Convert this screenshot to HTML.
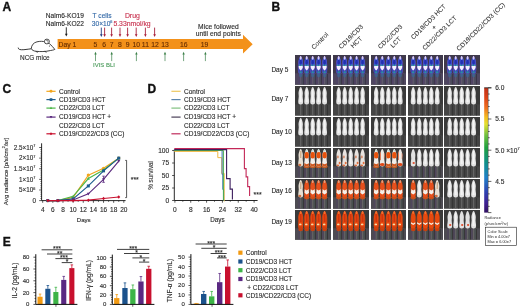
<!DOCTYPE html><html><head><meta charset="utf-8"><style>html,body{margin:0;padding:0;background:#fff;overflow:hidden;}svg{display:block;will-change:transform;}text{font-family:"Liberation Sans",sans-serif;}</style></head><body>
<svg width="520" height="308" viewBox="0 0 520 308">
<defs>
<path id="m" d="M0,1.2 C0.9,1.6 1.5,3.2 1.9,5 C2.2,6.8 1.8,8.4 2,10 C2.3,12 2.6,15 2.1,17 C1.6,18.6 -1.6,18.6 -2.1,17 C-2.6,15 -2.3,12 -2,10 C-1.8,8.4 -2.2,6.8 -1.9,5 C-1.5,3.2 -0.9,1.6 0,1.2Z"/>
<linearGradient id="cb" x1="0" y1="0" x2="0" y2="1"><stop offset="0" stop-color="#c03018"/><stop offset="0.08" stop-color="#dc4418"/><stop offset="0.16" stop-color="#ee7020"/><stop offset="0.24" stop-color="#f4c020"/><stop offset="0.29" stop-color="#e4e030"/><stop offset="0.38" stop-color="#70c040"/><stop offset="0.48" stop-color="#20a040"/><stop offset="0.6" stop-color="#10908a"/><stop offset="0.72" stop-color="#2080c8"/><stop offset="0.84" stop-color="#3040b0"/><stop offset="0.93" stop-color="#402090"/><stop offset="1" stop-color="#301060"/></linearGradient>
</defs>
<text x="2.4" y="10.7" font-size="12" font-weight="bold" fill="#111" stroke="#111" stroke-width="0.35">A</text>
<path d="M57.6,38.9 H243 V34.7 L252.7,44.2 L243,53.6 V49 H57.6 Z" fill="#F3911A"/>
<text x="58.6" y="46.8" font-size="6.8" fill="#6b3000" stroke="#6b3000" stroke-width="0.14">Day 1</text>
<text x="95.5" y="46.8" font-size="6.8" fill="#6b3000" text-anchor="middle" stroke="#6b3000" stroke-width="0.14">5</text>
<text x="104.1" y="46.8" font-size="6.8" fill="#6b3000" text-anchor="middle" stroke="#6b3000" stroke-width="0.14">6</text>
<text x="111.7" y="46.8" font-size="6.8" fill="#6b3000" text-anchor="middle" stroke="#6b3000" stroke-width="0.14">7</text>
<text x="119.8" y="46.8" font-size="6.8" fill="#6b3000" text-anchor="middle" stroke="#6b3000" stroke-width="0.14">8</text>
<text x="127.6" y="46.8" font-size="6.8" fill="#6b3000" text-anchor="middle" stroke="#6b3000" stroke-width="0.14">9</text>
<text x="136.2" y="46.8" font-size="6.8" fill="#6b3000" text-anchor="middle" stroke="#6b3000" stroke-width="0.14">10</text>
<text x="145.4" y="46.8" font-size="6.8" fill="#6b3000" text-anchor="middle" stroke="#6b3000" stroke-width="0.14">11</text>
<text x="155" y="46.8" font-size="6.8" fill="#6b3000" text-anchor="middle" stroke="#6b3000" stroke-width="0.14">12</text>
<text x="165" y="46.8" font-size="6.8" fill="#6b3000" text-anchor="middle" stroke="#6b3000" stroke-width="0.14">13</text>
<text x="183.8" y="46.8" font-size="6.8" fill="#6b3000" text-anchor="middle" stroke="#6b3000" stroke-width="0.14">16</text>
<text x="204.6" y="46.8" font-size="6.8" fill="#6b3000" text-anchor="middle" stroke="#6b3000" stroke-width="0.14">19</text>
<text x="45.8" y="17.6" font-size="6.6" fill="#2e2e2e" stroke="#2e2e2e" stroke-width="0.14">Nalm6-KO19</text>
<text x="45.8" y="25.6" font-size="6.6" fill="#2e2e2e" stroke="#2e2e2e" stroke-width="0.14">Nalm6-KO22</text>
<text x="92.6" y="17.6" font-size="6.6" fill="#356aa8" stroke="#356aa8" stroke-width="0.14">T cells</text>
<text x="91.8" y="25.6" font-size="6.6" fill="#356aa8" stroke="#356aa8" stroke-width="0.14">30×10<tspan font-size="3.8" dy="-2.6">6</tspan></text>
<text x="124.9" y="17.6" font-size="6.9" fill="#c83450" stroke="#c83450" stroke-width="0.14">Drug</text>
<text x="113.4" y="25.6" font-size="6.85" fill="#c83450" stroke="#c83450" stroke-width="0.14">5.33nmol/kg</text>
<text x="198.1" y="28.6" font-size="6.7" fill="#2e2e2e" stroke="#2e2e2e" stroke-width="0.14">Mice followed</text>
<text x="195.8" y="36.3" font-size="6.7" fill="#2e2e2e" stroke="#2e2e2e" stroke-width="0.14">until end points</text>
<path d="M66.3,27.3 V34.6" stroke="#1a1a1a" stroke-width="0.9"/><path d="M65.0,33.800000000000004 L66.3,36.6 L67.6,33.800000000000004Z" fill="#1a1a1a"/>
<path d="M101.3,27.6 V35" stroke="#1f3a80" stroke-width="0.9"/><path d="M100.0,34.2 L101.3,37 L102.6,34.2Z" fill="#1f3a80"/>
<path d="M104.6,27.6 V35" stroke="#a8203c" stroke-width="0.9"/><path d="M103.3,34.2 L104.6,37 L105.89999999999999,34.2Z" fill="#a8203c"/>
<path d="M111.6,27.6 V35" stroke="#a8203c" stroke-width="0.9"/><path d="M110.3,34.2 L111.6,37 L112.89999999999999,34.2Z" fill="#a8203c"/>
<path d="M120,27.6 V35" stroke="#a8203c" stroke-width="0.9"/><path d="M118.7,34.2 L120,37 L121.3,34.2Z" fill="#a8203c"/>
<path d="M127.6,27.6 V35" stroke="#a8203c" stroke-width="0.9"/><path d="M126.3,34.2 L127.6,37 L128.9,34.2Z" fill="#a8203c"/>
<path d="M136.2,27.6 V35" stroke="#a8203c" stroke-width="0.9"/><path d="M134.89999999999998,34.2 L136.2,37 L137.5,34.2Z" fill="#a8203c"/>
<path d="M145.4,27.6 V35" stroke="#a8203c" stroke-width="0.9"/><path d="M144.1,34.2 L145.4,37 L146.70000000000002,34.2Z" fill="#a8203c"/>
<path d="M154.6,27.6 V35" stroke="#a8203c" stroke-width="0.9"/><path d="M153.29999999999998,34.2 L154.6,37 L155.9,34.2Z" fill="#a8203c"/>
<path d="M95.5,61.1 V53.8" stroke="#3a8048" stroke-width="0.7"/><path d="M94.3,54.4 L95.5,51.8 L96.7,54.4Z" fill="#3a8048"/>
<path d="M111.7,61.1 V53.8" stroke="#3a8048" stroke-width="0.7"/><path d="M110.5,54.4 L111.7,51.8 L112.9,54.4Z" fill="#3a8048"/>
<path d="M136.4,61.1 V53.8" stroke="#3a8048" stroke-width="0.7"/><path d="M135.20000000000002,54.4 L136.4,51.8 L137.6,54.4Z" fill="#3a8048"/>
<path d="M165,61.1 V53.8" stroke="#3a8048" stroke-width="0.7"/><path d="M163.8,54.4 L165,51.8 L166.2,54.4Z" fill="#3a8048"/>
<path d="M183.6,61.1 V53.8" stroke="#3a8048" stroke-width="0.7"/><path d="M182.4,54.4 L183.6,51.8 L184.79999999999998,54.4Z" fill="#3a8048"/>
<path d="M205.4,61.1 V53.8" stroke="#3a8048" stroke-width="0.7"/><path d="M204.20000000000002,54.4 L205.4,51.8 L206.6,54.4Z" fill="#3a8048"/>
<text x="93.1" y="67.2" font-size="5.95" fill="#4e9c5e" stroke="#4e9c5e" stroke-width="0.14">IVIS BLI</text>
<path d="M18.2,48 C18.3,49.6 20,49.9 23.9,49.7 C27,49.5 29.5,48.9 31.6,48.7" fill="none" stroke="#222" stroke-width="0.9" stroke-linecap="round"/>
<path d="M31.3,48.7 C31.4,45.2 33.6,42.6 37,41.8 C40,41.1 43,41.2 45.2,41.9 L49.4,43.6 C51.4,45.3 53.4,47.4 54.8,49.4 C53.6,50.2 51.2,50.3 49,50.8 C46,51.6 40,51.8 36,51.3 C33.6,51 32.1,50.2 31.3,48.7 Z" fill="#fff" stroke="#222" stroke-width="0.85" stroke-linejoin="round"/>
<ellipse cx="46.9" cy="41.5" rx="2.5" ry="2.4" fill="#fff" stroke="#222" stroke-width="0.8"/>
<path d="M46,40.3 C47.4,39.8 48.4,41 47.8,42.5" fill="none" stroke="#222" stroke-width="0.6"/>
<path d="M35.8,51.4 L37.8,52.3 M44.6,51.4 L46.6,52.2" stroke="#2a2a2a" stroke-width="0.8"/>
<circle cx="49.4" cy="46" r="0.55" fill="#2a2a2a"/>
<text x="20" y="59.8" font-size="6.45" fill="#2e2e2e" stroke="#2e2e2e" stroke-width="0.14">NCG mice</text>
<text x="271.4" y="10.5" font-size="12" font-weight="bold" fill="#111" stroke="#111" stroke-width="0.35">B</text>
<text x="271.4" y="72.05" font-size="6.5" fill="#2e2e2e" stroke="#2e2e2e" stroke-width="0.14">Day 5</text>
<text x="271.4" y="100.5" font-size="6.5" fill="#2e2e2e" stroke="#2e2e2e" stroke-width="0.14">Day 7</text>
<text x="271.4" y="134" font-size="6.5" fill="#2e2e2e" stroke="#2e2e2e" stroke-width="0.14">Day 10</text>
<text x="271.4" y="164.5" font-size="6.5" fill="#2e2e2e" stroke="#2e2e2e" stroke-width="0.14">Day 13</text>
<text x="271.4" y="193.3" font-size="6.5" fill="#2e2e2e" stroke="#2e2e2e" stroke-width="0.14">Day 16</text>
<text x="271.4" y="224.2" font-size="6.5" fill="#2e2e2e" stroke="#2e2e2e" stroke-width="0.14">Day 19</text>
<defs><clipPath id="mc"><path d="M0,1.1 C0.7,1.3 1.2,2.6 1.5,3.8 C1.8,5 2.2,5.8 2.2,7 C2.2,8.4 1.95,9.4 1.95,10.6 C1.95,12 2.3,13.2 2.4,14.6 C2.5,16 2.4,17.4 1.9,18.1 C1.3,18.6 -1.3,18.6 -1.9,18.1 C-2.4,17.4 -2.5,16 -2.4,14.6 C-2.3,13.2 -1.95,12 -1.95,10.6 C-1.95,9.4 -2.2,8.4 -2.2,7 C-2.2,5.8 -1.8,5 -1.5,3.8 C-1.2,2.6 -0.7,1.3 0,1.1Z"/></clipPath><g id="vW"><path d="M0,1.1 C0.7,1.3 1.2,2.6 1.5,3.8 C1.8,5 2.2,5.8 2.2,7 C2.2,8.4 1.95,9.4 1.95,10.6 C1.95,12 2.3,13.2 2.4,14.6 C2.5,16 2.4,17.4 1.9,18.1 C1.3,18.6 -1.3,18.6 -1.9,18.1 C-2.4,17.4 -2.5,16 -2.4,14.6 C-2.3,13.2 -1.95,12 -1.95,10.6 C-1.95,9.4 -2.2,8.4 -2.2,7 C-2.2,5.8 -1.8,5 -1.5,3.8 C-1.2,2.6 -0.7,1.3 0,1.1Z" fill="#e2e2e2"/><path d="M-0.6,3 L0.6,3 L1,16 L-1,16Z" fill="#f4f4f4"/></g><g id="vB"><path d="M0,1 C1.5,4 3,8 3,12 C3,16 2,20 0,23 C-2,20 -3,16 -3,12 C-3,8 -1.5,4 0,1Z" fill="#5838a8" opacity="0.6"/><ellipse cx="0" cy="20" rx="1.8" ry="2.4" fill="#2a7a8a" opacity="0.5"/><path d="M0,1.1 C0.7,1.3 1.2,2.6 1.5,3.8 C1.8,5 2.2,5.8 2.2,7 C2.2,8.4 1.95,9.4 1.95,10.6 C1.95,12 2.3,13.2 2.4,14.6 C2.5,16 2.4,17.4 1.9,18.1 C1.3,18.6 -1.3,18.6 -1.9,18.1 C-2.4,17.4 -2.5,16 -2.4,14.6 C-2.3,13.2 -1.95,12 -1.95,10.6 C-1.95,9.4 -2.2,8.4 -2.2,7 C-2.2,5.8 -1.8,5 -1.5,3.8 C-1.2,2.6 -0.7,1.3 0,1.1Z" fill="#7a60c8"/><g clip-path="url(#mc)"><path d="M-3,4 C-1,2.8 1,2.8 3,4 L3,11.2 L-3,11.2Z" fill="#3a4ccc"/><ellipse cx="0" cy="7.2" rx="1.2" ry="2.4" fill="#2430b0"/><ellipse cx="-1.2" cy="10.2" rx="1" ry="0.8" fill="#30a8a0"/><ellipse cx="1.3" cy="10.4" rx="0.9" ry="0.8" fill="#40b890"/><path d="M-3,11 L3,11 L0.4,15.4 L-0.4,15.4Z" fill="#f2f0ff"/><path d="M-3,12.5 L-0.5,15.6 L0.5,15.6 L3,12.5 L3,19 L-3,19Z" fill="#3848b0"/><ellipse cx="0" cy="17.2" rx="1.3" ry="0.9" fill="#2a90a0"/><ellipse cx="0" cy="2.8" rx="1" ry="1.9" fill="#d8d0f2"/></g></g><g id="vO"><ellipse cx="0" cy="10.5" rx="2.9" ry="9" fill="#d84a14" opacity="0.55"/><ellipse cx="0" cy="19" rx="2.4" ry="2.2" fill="#c8400e"/><path d="M0,1.1 C0.7,1.3 1.2,2.6 1.5,3.8 C1.8,5 2.2,5.8 2.2,7 C2.2,8.4 1.95,9.4 1.95,10.6 C1.95,12 2.3,13.2 2.4,14.6 C2.5,16 2.4,17.4 1.9,18.1 C1.3,18.6 -1.3,18.6 -1.9,18.1 C-2.4,17.4 -2.5,16 -2.4,14.6 C-2.3,13.2 -1.95,12 -1.95,10.6 C-1.95,9.4 -2.2,8.4 -2.2,7 C-2.2,5.8 -1.8,5 -1.5,3.8 C-1.2,2.6 -0.7,1.3 0,1.1Z" fill="#e8460e"/><g clip-path="url(#mc)"><path d="M-0.8,4 L0.6,4 L0.9,12 L-0.7,12Z" fill="#c8300a" opacity="0.8"/><ellipse cx="0" cy="2.4" rx="1" ry="1.5" fill="#f07030"/><ellipse cx="-0.4" cy="14.4" rx="1.3" ry="0.9" fill="#f4dca8"/><path d="M-3,16.5 L3,16.5 L3,19 L-3,19Z" fill="#d0400c"/></g></g><g id="vM"><ellipse cx="0" cy="10.5" rx="2.9" ry="9" fill="#d84a14" opacity="0.55"/><ellipse cx="0" cy="18.6" rx="2.8" ry="1.8" fill="#c8501a"/><path d="M0,1.1 C0.7,1.3 1.2,2.6 1.5,3.8 C1.8,5 2.2,5.8 2.2,7 C2.2,8.4 1.95,9.4 1.95,10.6 C1.95,12 2.3,13.2 2.4,14.6 C2.5,16 2.4,17.4 1.9,18.1 C1.3,18.6 -1.3,18.6 -1.9,18.1 C-2.4,17.4 -2.5,16 -2.4,14.6 C-2.3,13.2 -1.95,12 -1.95,10.6 C-1.95,9.4 -2.2,8.4 -2.2,7 C-2.2,5.8 -1.8,5 -1.5,3.8 C-1.2,2.6 -0.7,1.3 0,1.1Z" fill="#e6501a"/><g clip-path="url(#mc)"><path d="M-3,9.6 L0,11.4 L3,9.6 L3,13.4 L0,15.4 L-3,13.4Z" fill="#f4f0ea"/><ellipse cx="0" cy="2.4" rx="1" ry="1.5" fill="#e0a080"/></g></g><g id="vV"><ellipse cx="0" cy="10.5" rx="2.9" ry="9" fill="#d84a14" opacity="0.55"/><ellipse cx="0" cy="19" rx="2.4" ry="2.2" fill="#c8400e"/><path d="M0,1.1 C0.7,1.3 1.2,2.6 1.5,3.8 C1.8,5 2.2,5.8 2.2,7 C2.2,8.4 1.95,9.4 1.95,10.6 C1.95,12 2.3,13.2 2.4,14.6 C2.5,16 2.4,17.4 1.9,18.1 C1.3,18.6 -1.3,18.6 -1.9,18.1 C-2.4,17.4 -2.5,16 -2.4,14.6 C-2.3,13.2 -1.95,12 -1.95,10.6 C-1.95,9.4 -2.2,8.4 -2.2,7 C-2.2,5.8 -1.8,5 -1.5,3.8 C-1.2,2.6 -0.7,1.3 0,1.1Z" fill="#e8480e"/><g clip-path="url(#mc)"><path d="M-2.4,12 L0,13.4 L2.4,12 L2.4,13.6 L0,15 L-2.4,13.6Z" fill="#f6eee0"/><ellipse cx="0" cy="2.4" rx="1" ry="1.5" fill="#f07030"/></g></g><g id="vN"><ellipse cx="0" cy="18.4" rx="3" ry="1.7" fill="#c05a22"/><path d="M0,1.1 C0.7,1.3 1.2,2.6 1.5,3.8 C1.8,5 2.2,5.8 2.2,7 C2.2,8.4 1.95,9.4 1.95,10.6 C1.95,12 2.3,13.2 2.4,14.6 C2.5,16 2.4,17.4 1.9,18.1 C1.3,18.6 -1.3,18.6 -1.9,18.1 C-2.4,17.4 -2.5,16 -2.4,14.6 C-2.3,13.2 -1.95,12 -1.95,10.6 C-1.95,9.4 -2.2,8.4 -2.2,7 C-2.2,5.8 -1.8,5 -1.5,3.8 C-1.2,2.6 -0.7,1.3 0,1.1Z" fill="#f2eeea"/><g clip-path="url(#mc)"><ellipse cx="0" cy="7.2" rx="2.7" ry="3.2" fill="#e8520e"/><path d="M-3,15 L0,16.2 L3,15 L3,19 L-3,19Z" fill="#d05a20"/><ellipse cx="0" cy="2.4" rx="1" ry="1.4" fill="#c8dcd4"/></g></g><g id="vL"><path d="M0,1.1 C0.7,1.3 1.2,2.6 1.5,3.8 C1.8,5 2.2,5.8 2.2,7 C2.2,8.4 1.95,9.4 1.95,10.6 C1.95,12 2.3,13.2 2.4,14.6 C2.5,16 2.4,17.4 1.9,18.1 C1.3,18.6 -1.3,18.6 -1.9,18.1 C-2.4,17.4 -2.5,16 -2.4,14.6 C-2.3,13.2 -1.95,12 -1.95,10.6 C-1.95,9.4 -2.2,8.4 -2.2,7 C-2.2,5.8 -1.8,5 -1.5,3.8 C-1.2,2.6 -0.7,1.3 0,1.1Z" fill="#e8e4e0"/><g clip-path="url(#mc)"><ellipse cx="-0.8" cy="9" rx="1" ry="1.4" fill="#d89070"/><ellipse cx="1" cy="15" rx="1" ry="1.2" fill="#e07040"/><ellipse cx="-1" cy="17.5" rx="1.6" ry="1" fill="#e07040"/></g></g><g id="vT"><path d="M0,1.1 C0.7,1.3 1.2,2.6 1.5,3.8 C1.8,5 2.2,5.8 2.2,7 C2.2,8.4 1.95,9.4 1.95,10.6 C1.95,12 2.3,13.2 2.4,14.6 C2.5,16 2.4,17.4 1.9,18.1 C1.3,18.6 -1.3,18.6 -1.9,18.1 C-2.4,17.4 -2.5,16 -2.4,14.6 C-2.3,13.2 -1.95,12 -1.95,10.6 C-1.95,9.4 -2.2,8.4 -2.2,7 C-2.2,5.8 -1.8,5 -1.5,3.8 C-1.2,2.6 -0.7,1.3 0,1.1Z" fill="#e8e0d4"/><g clip-path="url(#mc)"><path d="M-0.5,3 L0.8,3 L0.6,10 L-0.6,10Z" fill="#c8a888"/><ellipse cx="-1" cy="17" rx="1.6" ry="1.3" fill="#d07040"/></g></g><g id="vR"><path d="M0,1.1 C0.7,1.3 1.2,2.6 1.5,3.8 C1.8,5 2.2,5.8 2.2,7 C2.2,8.4 1.95,9.4 1.95,10.6 C1.95,12 2.3,13.2 2.4,14.6 C2.5,16 2.4,17.4 1.9,18.1 C1.3,18.6 -1.3,18.6 -1.9,18.1 C-2.4,17.4 -2.5,16 -2.4,14.6 C-2.3,13.2 -1.95,12 -1.95,10.6 C-1.95,9.4 -2.2,8.4 -2.2,7 C-2.2,5.8 -1.8,5 -1.5,3.8 C-1.2,2.6 -0.7,1.3 0,1.1Z" fill="#e2e2e2"/><g clip-path="url(#mc)"><ellipse cx="0.5" cy="15" rx="1.2" ry="0.9" fill="#e05030"/></g></g><g id="vS"><path d="M0,1.1 C0.7,1.3 1.2,2.6 1.5,3.8 C1.8,5 2.2,5.8 2.2,7 C2.2,8.4 1.95,9.4 1.95,10.6 C1.95,12 2.3,13.2 2.4,14.6 C2.5,16 2.4,17.4 1.9,18.1 C1.3,18.6 -1.3,18.6 -1.9,18.1 C-2.4,17.4 -2.5,16 -2.4,14.6 C-2.3,13.2 -1.95,12 -1.95,10.6 C-1.95,9.4 -2.2,8.4 -2.2,7 C-2.2,5.8 -1.8,5 -1.5,3.8 C-1.2,2.6 -0.7,1.3 0,1.1Z" fill="#eeeae6"/><g clip-path="url(#mc)"><rect x="-3" y="3" width="1.6" height="9" fill="#e85a28"/><rect x="1.6" y="5" width="1.4" height="6" fill="#e06030"/><ellipse cx="0" cy="16.5" rx="2.6" ry="1.6" fill="#e04818"/></g></g><filter id="bl" x="-10%" y="-10%" width="120%" height="120%"><feGaussianBlur stdDeviation="0.35"/></filter></defs>
<g transform="translate(295,55)">
<rect width="36" height="29.5" fill="#3a3a3a"/>
<rect y="18.4" width="36" height="11.1" fill="#454545"/>
<rect y="18.4" width="36" height="11.1" fill="#4d4b52"/>
<rect x="3.3" y="19" width="1.4" height="10.5" fill="#5a3a78" opacity="0.3"/>
<rect x="6.7" y="19" width="1.3" height="10.5" fill="#3c6048" opacity="0.3"/>
<rect x="9.3" y="19" width="1.4" height="10.5" fill="#5a3a78" opacity="0.3"/>
<rect x="12.7" y="19" width="1.3" height="10.5" fill="#3c6048" opacity="0.3"/>
<rect x="15.3" y="19" width="1.4" height="10.5" fill="#5a3a78" opacity="0.3"/>
<rect x="18.7" y="19" width="1.3" height="10.5" fill="#3c6048" opacity="0.3"/>
<rect x="21.2" y="19" width="1.4" height="10.5" fill="#5a3a78" opacity="0.3"/>
<rect x="24.6" y="19" width="1.3" height="10.5" fill="#3c6048" opacity="0.3"/>
<rect x="27.2" y="19" width="1.4" height="10.5" fill="#5a3a78" opacity="0.3"/>
<rect x="30.6" y="19" width="1.3" height="10.5" fill="#3c6048" opacity="0.3"/>
<rect x="5.1" y="18" width="1.2" height="11.5" fill="#646464"/>
<rect x="8.2" y="19" width="0.9" height="10.5" fill="#333333"/>
<rect x="11.1" y="18" width="1.2" height="11.5" fill="#646464"/>
<rect x="14.2" y="19" width="0.9" height="10.5" fill="#333333"/>
<rect x="17.1" y="18" width="1.2" height="11.5" fill="#646464"/>
<rect x="20.2" y="19" width="0.9" height="10.5" fill="#333333"/>
<rect x="23" y="18" width="1.2" height="11.5" fill="#646464"/>
<rect x="26.1" y="19" width="0.9" height="10.5" fill="#333333"/>
<rect x="29" y="18" width="1.2" height="11.5" fill="#646464"/>
<rect x="32.1" y="19" width="0.9" height="10.5" fill="#333333"/>
<rect y="0" width="36" height="29.5" fill="#5a3a9a" opacity="0.18"/>
<g filter="url(#bl)">
<use href="#vB" x="5.7"/>
<use href="#vB" x="11.7"/>
<use href="#vB" x="17.7"/>
<use href="#vB" x="23.6"/>
<use href="#vB" x="29.6"/>
</g></g>
<g transform="translate(333,55)">
<rect width="36" height="29.5" fill="#3a3a3a"/>
<rect y="18.4" width="36" height="11.1" fill="#454545"/>
<rect y="18.4" width="36" height="11.1" fill="#4d4b52"/>
<rect x="3.3" y="19" width="1.4" height="10.5" fill="#5a3a78" opacity="0.3"/>
<rect x="6.7" y="19" width="1.3" height="10.5" fill="#3c6048" opacity="0.3"/>
<rect x="9.3" y="19" width="1.4" height="10.5" fill="#5a3a78" opacity="0.3"/>
<rect x="12.7" y="19" width="1.3" height="10.5" fill="#3c6048" opacity="0.3"/>
<rect x="15.3" y="19" width="1.4" height="10.5" fill="#5a3a78" opacity="0.3"/>
<rect x="18.7" y="19" width="1.3" height="10.5" fill="#3c6048" opacity="0.3"/>
<rect x="21.2" y="19" width="1.4" height="10.5" fill="#5a3a78" opacity="0.3"/>
<rect x="24.6" y="19" width="1.3" height="10.5" fill="#3c6048" opacity="0.3"/>
<rect x="27.2" y="19" width="1.4" height="10.5" fill="#5a3a78" opacity="0.3"/>
<rect x="30.6" y="19" width="1.3" height="10.5" fill="#3c6048" opacity="0.3"/>
<rect x="5.1" y="18" width="1.2" height="11.5" fill="#646464"/>
<rect x="8.2" y="19" width="0.9" height="10.5" fill="#333333"/>
<rect x="11.1" y="18" width="1.2" height="11.5" fill="#646464"/>
<rect x="14.2" y="19" width="0.9" height="10.5" fill="#333333"/>
<rect x="17.1" y="18" width="1.2" height="11.5" fill="#646464"/>
<rect x="20.2" y="19" width="0.9" height="10.5" fill="#333333"/>
<rect x="23" y="18" width="1.2" height="11.5" fill="#646464"/>
<rect x="26.1" y="19" width="0.9" height="10.5" fill="#333333"/>
<rect x="29" y="18" width="1.2" height="11.5" fill="#646464"/>
<rect x="32.1" y="19" width="0.9" height="10.5" fill="#333333"/>
<rect y="0" width="36" height="29.5" fill="#5a3a9a" opacity="0.18"/>
<g filter="url(#bl)">
<use href="#vB" x="5.7"/>
<use href="#vB" x="11.7"/>
<use href="#vB" x="17.7"/>
<use href="#vB" x="23.6"/>
<use href="#vB" x="29.6"/>
</g></g>
<g transform="translate(371,55)">
<rect width="35" height="29.5" fill="#3a3a3a"/>
<rect y="18.4" width="35" height="11.1" fill="#454545"/>
<rect y="18.4" width="35" height="11.1" fill="#4d4b52"/>
<rect x="2.8" y="19" width="1.4" height="10.5" fill="#5a3a78" opacity="0.3"/>
<rect x="6.2" y="19" width="1.3" height="10.5" fill="#3c6048" opacity="0.3"/>
<rect x="8.9" y="19" width="1.4" height="10.5" fill="#5a3a78" opacity="0.3"/>
<rect x="12.3" y="19" width="1.3" height="10.5" fill="#3c6048" opacity="0.3"/>
<rect x="15" y="19" width="1.4" height="10.5" fill="#5a3a78" opacity="0.3"/>
<rect x="18.4" y="19" width="1.3" height="10.5" fill="#3c6048" opacity="0.3"/>
<rect x="20.9" y="19" width="1.4" height="10.5" fill="#5a3a78" opacity="0.3"/>
<rect x="24.3" y="19" width="1.3" height="10.5" fill="#3c6048" opacity="0.3"/>
<rect x="26.8" y="19" width="1.4" height="10.5" fill="#5a3a78" opacity="0.3"/>
<rect x="30.2" y="19" width="1.3" height="10.5" fill="#3c6048" opacity="0.3"/>
<rect x="4.6" y="18" width="1.2" height="11.5" fill="#646464"/>
<rect x="7.7" y="19" width="0.9" height="10.5" fill="#333333"/>
<rect x="10.7" y="18" width="1.2" height="11.5" fill="#646464"/>
<rect x="13.8" y="19" width="0.9" height="10.5" fill="#333333"/>
<rect x="16.8" y="18" width="1.2" height="11.5" fill="#646464"/>
<rect x="19.9" y="19" width="0.9" height="10.5" fill="#333333"/>
<rect x="22.7" y="18" width="1.2" height="11.5" fill="#646464"/>
<rect x="25.8" y="19" width="0.9" height="10.5" fill="#333333"/>
<rect x="28.6" y="18" width="1.2" height="11.5" fill="#646464"/>
<rect x="31.7" y="19" width="0.9" height="10.5" fill="#333333"/>
<rect y="0" width="35" height="29.5" fill="#5a3a9a" opacity="0.18"/>
<g filter="url(#bl)">
<use href="#vB" x="5.2"/>
<use href="#vB" x="11.3"/>
<use href="#vB" x="17.4"/>
<use href="#vB" x="23.3"/>
<use href="#vB" x="29.2"/>
</g></g>
<g transform="translate(408,55)">
<rect width="35" height="29.5" fill="#3a3a3a"/>
<rect y="18.4" width="35" height="11.1" fill="#454545"/>
<rect y="18.4" width="35" height="11.1" fill="#4d4b52"/>
<rect x="2.8" y="19" width="1.4" height="10.5" fill="#5a3a78" opacity="0.3"/>
<rect x="6.2" y="19" width="1.3" height="10.5" fill="#3c6048" opacity="0.3"/>
<rect x="8.9" y="19" width="1.4" height="10.5" fill="#5a3a78" opacity="0.3"/>
<rect x="12.3" y="19" width="1.3" height="10.5" fill="#3c6048" opacity="0.3"/>
<rect x="15" y="19" width="1.4" height="10.5" fill="#5a3a78" opacity="0.3"/>
<rect x="18.4" y="19" width="1.3" height="10.5" fill="#3c6048" opacity="0.3"/>
<rect x="20.9" y="19" width="1.4" height="10.5" fill="#5a3a78" opacity="0.3"/>
<rect x="24.3" y="19" width="1.3" height="10.5" fill="#3c6048" opacity="0.3"/>
<rect x="26.8" y="19" width="1.4" height="10.5" fill="#5a3a78" opacity="0.3"/>
<rect x="30.2" y="19" width="1.3" height="10.5" fill="#3c6048" opacity="0.3"/>
<rect x="4.6" y="18" width="1.2" height="11.5" fill="#646464"/>
<rect x="7.7" y="19" width="0.9" height="10.5" fill="#333333"/>
<rect x="10.7" y="18" width="1.2" height="11.5" fill="#646464"/>
<rect x="13.8" y="19" width="0.9" height="10.5" fill="#333333"/>
<rect x="16.8" y="18" width="1.2" height="11.5" fill="#646464"/>
<rect x="19.9" y="19" width="0.9" height="10.5" fill="#333333"/>
<rect x="22.7" y="18" width="1.2" height="11.5" fill="#646464"/>
<rect x="25.8" y="19" width="0.9" height="10.5" fill="#333333"/>
<rect x="28.6" y="18" width="1.2" height="11.5" fill="#646464"/>
<rect x="31.7" y="19" width="0.9" height="10.5" fill="#333333"/>
<rect y="0" width="35" height="29.5" fill="#5a3a9a" opacity="0.18"/>
<g filter="url(#bl)">
<use href="#vB" x="5.2"/>
<use href="#vB" x="11.3"/>
<use href="#vB" x="17.4"/>
<use href="#vB" x="23.3"/>
<use href="#vB" x="29.2"/>
</g></g>
<g transform="translate(444,55)">
<rect width="36" height="29.5" fill="#3a3a3a"/>
<rect y="18.4" width="36" height="11.1" fill="#454545"/>
<rect y="18.4" width="36" height="11.1" fill="#4d4b52"/>
<rect x="3.3" y="19" width="1.4" height="10.5" fill="#5a3a78" opacity="0.3"/>
<rect x="6.7" y="19" width="1.3" height="10.5" fill="#3c6048" opacity="0.3"/>
<rect x="9.3" y="19" width="1.4" height="10.5" fill="#5a3a78" opacity="0.3"/>
<rect x="12.7" y="19" width="1.3" height="10.5" fill="#3c6048" opacity="0.3"/>
<rect x="15.3" y="19" width="1.4" height="10.5" fill="#5a3a78" opacity="0.3"/>
<rect x="18.7" y="19" width="1.3" height="10.5" fill="#3c6048" opacity="0.3"/>
<rect x="21.2" y="19" width="1.4" height="10.5" fill="#5a3a78" opacity="0.3"/>
<rect x="24.6" y="19" width="1.3" height="10.5" fill="#3c6048" opacity="0.3"/>
<rect x="27.2" y="19" width="1.4" height="10.5" fill="#5a3a78" opacity="0.3"/>
<rect x="30.6" y="19" width="1.3" height="10.5" fill="#3c6048" opacity="0.3"/>
<rect x="5.1" y="18" width="1.2" height="11.5" fill="#646464"/>
<rect x="8.2" y="19" width="0.9" height="10.5" fill="#333333"/>
<rect x="11.1" y="18" width="1.2" height="11.5" fill="#646464"/>
<rect x="14.2" y="19" width="0.9" height="10.5" fill="#333333"/>
<rect x="17.1" y="18" width="1.2" height="11.5" fill="#646464"/>
<rect x="20.2" y="19" width="0.9" height="10.5" fill="#333333"/>
<rect x="23" y="18" width="1.2" height="11.5" fill="#646464"/>
<rect x="26.1" y="19" width="0.9" height="10.5" fill="#333333"/>
<rect x="29" y="18" width="1.2" height="11.5" fill="#646464"/>
<rect x="32.1" y="19" width="0.9" height="10.5" fill="#333333"/>
<rect y="0" width="36" height="29.5" fill="#5a3a9a" opacity="0.18"/>
<g filter="url(#bl)">
<use href="#vB" x="5.7"/>
<use href="#vB" x="11.7"/>
<use href="#vB" x="17.7"/>
<use href="#vB" x="23.6"/>
<use href="#vB" x="29.6"/>
</g></g>
<g transform="translate(295,86)">
<rect width="36" height="29.5" fill="#3a3a3a"/>
<rect y="18.4" width="36" height="11.1" fill="#454545"/>
<rect x="5.1" y="18" width="1.2" height="11.5" fill="#646464"/>
<rect x="8.2" y="19" width="0.9" height="10.5" fill="#333333"/>
<rect x="11.1" y="18" width="1.2" height="11.5" fill="#646464"/>
<rect x="14.2" y="19" width="0.9" height="10.5" fill="#333333"/>
<rect x="17.1" y="18" width="1.2" height="11.5" fill="#646464"/>
<rect x="20.2" y="19" width="0.9" height="10.5" fill="#333333"/>
<rect x="23" y="18" width="1.2" height="11.5" fill="#646464"/>
<rect x="26.1" y="19" width="0.9" height="10.5" fill="#333333"/>
<rect x="29" y="18" width="1.2" height="11.5" fill="#646464"/>
<rect x="32.1" y="19" width="0.9" height="10.5" fill="#333333"/>
<g filter="url(#bl)">
<use href="#vW" x="5.7"/>
<use href="#vW" x="11.7"/>
<use href="#vW" x="17.7"/>
<use href="#vW" x="23.6"/>
<use href="#vW" x="29.6"/>
</g></g>
<g transform="translate(333,86)">
<rect width="36" height="29.5" fill="#3a3a3a"/>
<rect y="18.4" width="36" height="11.1" fill="#454545"/>
<rect x="5.1" y="18" width="1.2" height="11.5" fill="#646464"/>
<rect x="8.2" y="19" width="0.9" height="10.5" fill="#333333"/>
<rect x="11.1" y="18" width="1.2" height="11.5" fill="#646464"/>
<rect x="14.2" y="19" width="0.9" height="10.5" fill="#333333"/>
<rect x="17.1" y="18" width="1.2" height="11.5" fill="#646464"/>
<rect x="20.2" y="19" width="0.9" height="10.5" fill="#333333"/>
<rect x="23" y="18" width="1.2" height="11.5" fill="#646464"/>
<rect x="26.1" y="19" width="0.9" height="10.5" fill="#333333"/>
<rect x="29" y="18" width="1.2" height="11.5" fill="#646464"/>
<rect x="32.1" y="19" width="0.9" height="10.5" fill="#333333"/>
<g filter="url(#bl)">
<use href="#vW" x="5.7"/>
<use href="#vW" x="11.7"/>
<use href="#vW" x="17.7"/>
<use href="#vW" x="23.6"/>
<use href="#vW" x="29.6"/>
</g></g>
<g transform="translate(371,86)">
<rect width="35" height="29.5" fill="#3a3a3a"/>
<rect y="18.4" width="35" height="11.1" fill="#454545"/>
<rect x="4.6" y="18" width="1.2" height="11.5" fill="#646464"/>
<rect x="7.7" y="19" width="0.9" height="10.5" fill="#333333"/>
<rect x="10.7" y="18" width="1.2" height="11.5" fill="#646464"/>
<rect x="13.8" y="19" width="0.9" height="10.5" fill="#333333"/>
<rect x="16.8" y="18" width="1.2" height="11.5" fill="#646464"/>
<rect x="19.9" y="19" width="0.9" height="10.5" fill="#333333"/>
<rect x="22.7" y="18" width="1.2" height="11.5" fill="#646464"/>
<rect x="25.8" y="19" width="0.9" height="10.5" fill="#333333"/>
<rect x="28.6" y="18" width="1.2" height="11.5" fill="#646464"/>
<rect x="31.7" y="19" width="0.9" height="10.5" fill="#333333"/>
<g filter="url(#bl)">
<use href="#vW" x="5.2"/>
<use href="#vW" x="11.3"/>
<use href="#vW" x="17.4"/>
<use href="#vW" x="23.3"/>
<use href="#vW" x="29.2"/>
</g></g>
<g transform="translate(408,86)">
<rect width="35" height="29.5" fill="#3a3a3a"/>
<rect y="18.4" width="35" height="11.1" fill="#454545"/>
<rect x="4.6" y="18" width="1.2" height="11.5" fill="#646464"/>
<rect x="7.7" y="19" width="0.9" height="10.5" fill="#333333"/>
<rect x="10.7" y="18" width="1.2" height="11.5" fill="#646464"/>
<rect x="13.8" y="19" width="0.9" height="10.5" fill="#333333"/>
<rect x="16.8" y="18" width="1.2" height="11.5" fill="#646464"/>
<rect x="19.9" y="19" width="0.9" height="10.5" fill="#333333"/>
<rect x="22.7" y="18" width="1.2" height="11.5" fill="#646464"/>
<rect x="25.8" y="19" width="0.9" height="10.5" fill="#333333"/>
<rect x="28.6" y="18" width="1.2" height="11.5" fill="#646464"/>
<rect x="31.7" y="19" width="0.9" height="10.5" fill="#333333"/>
<g filter="url(#bl)">
<use href="#vW" x="5.2"/>
<use href="#vW" x="11.3"/>
<use href="#vW" x="17.4"/>
<use href="#vW" x="23.3"/>
<use href="#vW" x="29.2"/>
</g></g>
<g transform="translate(444,86)">
<rect width="36" height="29.5" fill="#3a3a3a"/>
<rect y="18.4" width="36" height="11.1" fill="#454545"/>
<rect x="5.1" y="18" width="1.2" height="11.5" fill="#646464"/>
<rect x="8.2" y="19" width="0.9" height="10.5" fill="#333333"/>
<rect x="11.1" y="18" width="1.2" height="11.5" fill="#646464"/>
<rect x="14.2" y="19" width="0.9" height="10.5" fill="#333333"/>
<rect x="17.1" y="18" width="1.2" height="11.5" fill="#646464"/>
<rect x="20.2" y="19" width="0.9" height="10.5" fill="#333333"/>
<rect x="23" y="18" width="1.2" height="11.5" fill="#646464"/>
<rect x="26.1" y="19" width="0.9" height="10.5" fill="#333333"/>
<rect x="29" y="18" width="1.2" height="11.5" fill="#646464"/>
<rect x="32.1" y="19" width="0.9" height="10.5" fill="#333333"/>
<g filter="url(#bl)">
<use href="#vW" x="5.7"/>
<use href="#vW" x="11.7"/>
<use href="#vW" x="17.7"/>
<use href="#vW" x="23.6"/>
<use href="#vW" x="29.6"/>
</g></g>
<g transform="translate(295,117)">
<rect width="36" height="29.5" fill="#3a3a3a"/>
<rect y="18.4" width="36" height="11.1" fill="#454545"/>
<rect x="5.1" y="18" width="1.2" height="11.5" fill="#646464"/>
<rect x="8.2" y="19" width="0.9" height="10.5" fill="#333333"/>
<rect x="11.1" y="18" width="1.2" height="11.5" fill="#646464"/>
<rect x="14.2" y="19" width="0.9" height="10.5" fill="#333333"/>
<rect x="17.1" y="18" width="1.2" height="11.5" fill="#646464"/>
<rect x="20.2" y="19" width="0.9" height="10.5" fill="#333333"/>
<rect x="23" y="18" width="1.2" height="11.5" fill="#646464"/>
<rect x="26.1" y="19" width="0.9" height="10.5" fill="#333333"/>
<rect x="29" y="18" width="1.2" height="11.5" fill="#646464"/>
<rect x="32.1" y="19" width="0.9" height="10.5" fill="#333333"/>
<g filter="url(#bl)">
<use href="#vW" x="5.7"/>
<use href="#vW" x="11.7"/>
<use href="#vW" x="17.7"/>
<use href="#vW" x="23.6"/>
<use href="#vW" x="29.6"/>
</g></g>
<g transform="translate(333,117)">
<rect width="36" height="29.5" fill="#3a3a3a"/>
<rect y="18.4" width="36" height="11.1" fill="#454545"/>
<rect x="5.1" y="18" width="1.2" height="11.5" fill="#646464"/>
<rect x="8.2" y="19" width="0.9" height="10.5" fill="#333333"/>
<rect x="11.1" y="18" width="1.2" height="11.5" fill="#646464"/>
<rect x="14.2" y="19" width="0.9" height="10.5" fill="#333333"/>
<rect x="17.1" y="18" width="1.2" height="11.5" fill="#646464"/>
<rect x="20.2" y="19" width="0.9" height="10.5" fill="#333333"/>
<rect x="23" y="18" width="1.2" height="11.5" fill="#646464"/>
<rect x="26.1" y="19" width="0.9" height="10.5" fill="#333333"/>
<rect x="29" y="18" width="1.2" height="11.5" fill="#646464"/>
<rect x="32.1" y="19" width="0.9" height="10.5" fill="#333333"/>
<g filter="url(#bl)">
<use href="#vW" x="5.7"/>
<use href="#vW" x="11.7"/>
<use href="#vW" x="17.7"/>
<use href="#vW" x="23.6"/>
<use href="#vW" x="29.6"/>
</g></g>
<g transform="translate(371,117)">
<rect width="35" height="29.5" fill="#3a3a3a"/>
<rect y="18.4" width="35" height="11.1" fill="#454545"/>
<rect x="4.6" y="18" width="1.2" height="11.5" fill="#646464"/>
<rect x="7.7" y="19" width="0.9" height="10.5" fill="#333333"/>
<rect x="10.7" y="18" width="1.2" height="11.5" fill="#646464"/>
<rect x="13.8" y="19" width="0.9" height="10.5" fill="#333333"/>
<rect x="16.8" y="18" width="1.2" height="11.5" fill="#646464"/>
<rect x="19.9" y="19" width="0.9" height="10.5" fill="#333333"/>
<rect x="22.7" y="18" width="1.2" height="11.5" fill="#646464"/>
<rect x="25.8" y="19" width="0.9" height="10.5" fill="#333333"/>
<rect x="28.6" y="18" width="1.2" height="11.5" fill="#646464"/>
<rect x="31.7" y="19" width="0.9" height="10.5" fill="#333333"/>
<g filter="url(#bl)">
<use href="#vW" x="5.2"/>
<use href="#vW" x="11.3"/>
<use href="#vW" x="17.4"/>
<use href="#vW" x="23.3"/>
<use href="#vW" x="29.2"/>
</g></g>
<g transform="translate(408,117)">
<rect width="35" height="29.5" fill="#3a3a3a"/>
<rect y="18.4" width="35" height="11.1" fill="#454545"/>
<rect x="4.6" y="18" width="1.2" height="11.5" fill="#646464"/>
<rect x="7.7" y="19" width="0.9" height="10.5" fill="#333333"/>
<rect x="10.7" y="18" width="1.2" height="11.5" fill="#646464"/>
<rect x="13.8" y="19" width="0.9" height="10.5" fill="#333333"/>
<rect x="16.8" y="18" width="1.2" height="11.5" fill="#646464"/>
<rect x="19.9" y="19" width="0.9" height="10.5" fill="#333333"/>
<rect x="22.7" y="18" width="1.2" height="11.5" fill="#646464"/>
<rect x="25.8" y="19" width="0.9" height="10.5" fill="#333333"/>
<rect x="28.6" y="18" width="1.2" height="11.5" fill="#646464"/>
<rect x="31.7" y="19" width="0.9" height="10.5" fill="#333333"/>
<g filter="url(#bl)">
<use href="#vW" x="5.2"/>
<use href="#vW" x="11.3"/>
<use href="#vW" x="17.4"/>
<use href="#vW" x="23.3"/>
<use href="#vW" x="29.2"/>
</g></g>
<g transform="translate(444,117)">
<rect width="36" height="29.5" fill="#3a3a3a"/>
<rect y="18.4" width="36" height="11.1" fill="#454545"/>
<rect x="5.1" y="18" width="1.2" height="11.5" fill="#646464"/>
<rect x="8.2" y="19" width="0.9" height="10.5" fill="#333333"/>
<rect x="11.1" y="18" width="1.2" height="11.5" fill="#646464"/>
<rect x="14.2" y="19" width="0.9" height="10.5" fill="#333333"/>
<rect x="17.1" y="18" width="1.2" height="11.5" fill="#646464"/>
<rect x="20.2" y="19" width="0.9" height="10.5" fill="#333333"/>
<rect x="23" y="18" width="1.2" height="11.5" fill="#646464"/>
<rect x="26.1" y="19" width="0.9" height="10.5" fill="#333333"/>
<rect x="29" y="18" width="1.2" height="11.5" fill="#646464"/>
<rect x="32.1" y="19" width="0.9" height="10.5" fill="#333333"/>
<g filter="url(#bl)">
<use href="#vW" x="5.7"/>
<use href="#vW" x="11.7"/>
<use href="#vW" x="17.7"/>
<use href="#vW" x="23.6"/>
<use href="#vW" x="29.6"/>
</g></g>
<g transform="translate(295,148)">
<rect width="36" height="29.5" fill="#3a3a3a"/>
<rect y="18.4" width="36" height="11.1" fill="#454545"/>
<rect y="18.4" width="36" height="11.1" fill="#4d4b52"/>
<rect x="3.3" y="19" width="1.4" height="10.5" fill="#5a3a78" opacity="0.3"/>
<rect x="6.7" y="19" width="1.3" height="10.5" fill="#3c6048" opacity="0.3"/>
<rect x="9.3" y="19" width="1.4" height="10.5" fill="#5a3a78" opacity="0.3"/>
<rect x="12.7" y="19" width="1.3" height="10.5" fill="#3c6048" opacity="0.3"/>
<rect x="15.3" y="19" width="1.4" height="10.5" fill="#5a3a78" opacity="0.3"/>
<rect x="18.7" y="19" width="1.3" height="10.5" fill="#3c6048" opacity="0.3"/>
<rect x="21.2" y="19" width="1.4" height="10.5" fill="#5a3a78" opacity="0.3"/>
<rect x="24.6" y="19" width="1.3" height="10.5" fill="#3c6048" opacity="0.3"/>
<rect x="27.2" y="19" width="1.4" height="10.5" fill="#5a3a78" opacity="0.3"/>
<rect x="30.6" y="19" width="1.3" height="10.5" fill="#3c6048" opacity="0.3"/>
<rect x="5.1" y="18" width="1.2" height="11.5" fill="#646464"/>
<rect x="8.2" y="19" width="0.9" height="10.5" fill="#333333"/>
<rect x="11.1" y="18" width="1.2" height="11.5" fill="#646464"/>
<rect x="14.2" y="19" width="0.9" height="10.5" fill="#333333"/>
<rect x="17.1" y="18" width="1.2" height="11.5" fill="#646464"/>
<rect x="20.2" y="19" width="0.9" height="10.5" fill="#333333"/>
<rect x="23" y="18" width="1.2" height="11.5" fill="#646464"/>
<rect x="26.1" y="19" width="0.9" height="10.5" fill="#333333"/>
<rect x="29" y="18" width="1.2" height="11.5" fill="#646464"/>
<rect x="32.1" y="19" width="0.9" height="10.5" fill="#333333"/>
<g filter="url(#bl)">
<use href="#vT" x="5.7"/>
<use href="#vN" x="11.7"/>
<use href="#vN" x="17.7"/>
<use href="#vN" x="23.6"/>
<use href="#vN" x="29.6"/>
</g></g>
<g transform="translate(333,148)">
<rect width="36" height="29.5" fill="#3a3a3a"/>
<rect y="18.4" width="36" height="11.1" fill="#454545"/>
<rect y="18.4" width="36" height="11.1" fill="#4d4b52"/>
<rect x="3.3" y="19" width="1.4" height="10.5" fill="#5a3a78" opacity="0.3"/>
<rect x="6.7" y="19" width="1.3" height="10.5" fill="#3c6048" opacity="0.3"/>
<rect x="9.3" y="19" width="1.4" height="10.5" fill="#5a3a78" opacity="0.3"/>
<rect x="12.7" y="19" width="1.3" height="10.5" fill="#3c6048" opacity="0.3"/>
<rect x="15.3" y="19" width="1.4" height="10.5" fill="#5a3a78" opacity="0.3"/>
<rect x="18.7" y="19" width="1.3" height="10.5" fill="#3c6048" opacity="0.3"/>
<rect x="21.2" y="19" width="1.4" height="10.5" fill="#5a3a78" opacity="0.3"/>
<rect x="24.6" y="19" width="1.3" height="10.5" fill="#3c6048" opacity="0.3"/>
<rect x="27.2" y="19" width="1.4" height="10.5" fill="#5a3a78" opacity="0.3"/>
<rect x="30.6" y="19" width="1.3" height="10.5" fill="#3c6048" opacity="0.3"/>
<rect x="5.1" y="18" width="1.2" height="11.5" fill="#646464"/>
<rect x="8.2" y="19" width="0.9" height="10.5" fill="#333333"/>
<rect x="11.1" y="18" width="1.2" height="11.5" fill="#646464"/>
<rect x="14.2" y="19" width="0.9" height="10.5" fill="#333333"/>
<rect x="17.1" y="18" width="1.2" height="11.5" fill="#646464"/>
<rect x="20.2" y="19" width="0.9" height="10.5" fill="#333333"/>
<rect x="23" y="18" width="1.2" height="11.5" fill="#646464"/>
<rect x="26.1" y="19" width="0.9" height="10.5" fill="#333333"/>
<rect x="29" y="18" width="1.2" height="11.5" fill="#646464"/>
<rect x="32.1" y="19" width="0.9" height="10.5" fill="#333333"/>
<g filter="url(#bl)">
<use href="#vL" x="5.7"/>
<use href="#vL" x="11.7"/>
<use href="#vW" x="17.7"/>
<use href="#vL" x="23.6"/>
<use href="#vL" x="29.6"/>
</g></g>
<g transform="translate(371,148)">
<rect width="35" height="29.5" fill="#3a3a3a"/>
<rect y="18.4" width="35" height="11.1" fill="#454545"/>
<rect y="18.4" width="35" height="11.1" fill="#4d4b52"/>
<rect x="2.8" y="19" width="1.4" height="10.5" fill="#5a3a78" opacity="0.3"/>
<rect x="6.2" y="19" width="1.3" height="10.5" fill="#3c6048" opacity="0.3"/>
<rect x="8.9" y="19" width="1.4" height="10.5" fill="#5a3a78" opacity="0.3"/>
<rect x="12.3" y="19" width="1.3" height="10.5" fill="#3c6048" opacity="0.3"/>
<rect x="15" y="19" width="1.4" height="10.5" fill="#5a3a78" opacity="0.3"/>
<rect x="18.4" y="19" width="1.3" height="10.5" fill="#3c6048" opacity="0.3"/>
<rect x="20.9" y="19" width="1.4" height="10.5" fill="#5a3a78" opacity="0.3"/>
<rect x="24.3" y="19" width="1.3" height="10.5" fill="#3c6048" opacity="0.3"/>
<rect x="26.8" y="19" width="1.4" height="10.5" fill="#5a3a78" opacity="0.3"/>
<rect x="30.2" y="19" width="1.3" height="10.5" fill="#3c6048" opacity="0.3"/>
<rect x="4.6" y="18" width="1.2" height="11.5" fill="#646464"/>
<rect x="7.7" y="19" width="0.9" height="10.5" fill="#333333"/>
<rect x="10.7" y="18" width="1.2" height="11.5" fill="#646464"/>
<rect x="13.8" y="19" width="0.9" height="10.5" fill="#333333"/>
<rect x="16.8" y="18" width="1.2" height="11.5" fill="#646464"/>
<rect x="19.9" y="19" width="0.9" height="10.5" fill="#333333"/>
<rect x="22.7" y="18" width="1.2" height="11.5" fill="#646464"/>
<rect x="25.8" y="19" width="0.9" height="10.5" fill="#333333"/>
<rect x="28.6" y="18" width="1.2" height="11.5" fill="#646464"/>
<rect x="31.7" y="19" width="0.9" height="10.5" fill="#333333"/>
<g filter="url(#bl)">
<use href="#vN" x="5.2"/>
<use href="#vS" x="11.3"/>
<use href="#vN" x="17.4"/>
<use href="#vN" x="23.3"/>
<use href="#vS" x="29.2"/>
</g></g>
<g transform="translate(408,148)">
<rect width="35" height="29.5" fill="#3a3a3a"/>
<rect y="18.4" width="35" height="11.1" fill="#454545"/>
<rect y="18.4" width="35" height="11.1" fill="#4d4b52"/>
<rect x="2.8" y="19" width="1.4" height="10.5" fill="#5a3a78" opacity="0.3"/>
<rect x="6.2" y="19" width="1.3" height="10.5" fill="#3c6048" opacity="0.3"/>
<rect x="8.9" y="19" width="1.4" height="10.5" fill="#5a3a78" opacity="0.3"/>
<rect x="12.3" y="19" width="1.3" height="10.5" fill="#3c6048" opacity="0.3"/>
<rect x="15" y="19" width="1.4" height="10.5" fill="#5a3a78" opacity="0.3"/>
<rect x="18.4" y="19" width="1.3" height="10.5" fill="#3c6048" opacity="0.3"/>
<rect x="20.9" y="19" width="1.4" height="10.5" fill="#5a3a78" opacity="0.3"/>
<rect x="24.3" y="19" width="1.3" height="10.5" fill="#3c6048" opacity="0.3"/>
<rect x="26.8" y="19" width="1.4" height="10.5" fill="#5a3a78" opacity="0.3"/>
<rect x="30.2" y="19" width="1.3" height="10.5" fill="#3c6048" opacity="0.3"/>
<rect x="4.6" y="18" width="1.2" height="11.5" fill="#646464"/>
<rect x="7.7" y="19" width="0.9" height="10.5" fill="#333333"/>
<rect x="10.7" y="18" width="1.2" height="11.5" fill="#646464"/>
<rect x="13.8" y="19" width="0.9" height="10.5" fill="#333333"/>
<rect x="16.8" y="18" width="1.2" height="11.5" fill="#646464"/>
<rect x="19.9" y="19" width="0.9" height="10.5" fill="#333333"/>
<rect x="22.7" y="18" width="1.2" height="11.5" fill="#646464"/>
<rect x="25.8" y="19" width="0.9" height="10.5" fill="#333333"/>
<rect x="28.6" y="18" width="1.2" height="11.5" fill="#646464"/>
<rect x="31.7" y="19" width="0.9" height="10.5" fill="#333333"/>
<g filter="url(#bl)">
<use href="#vR" x="5.2"/>
<use href="#vW" x="11.3"/>
<use href="#vW" x="17.4"/>
<use href="#vW" x="23.3"/>
<use href="#vW" x="29.2"/>
</g></g>
<g transform="translate(444,148)">
<rect width="36" height="29.5" fill="#3a3a3a"/>
<rect y="18.4" width="36" height="11.1" fill="#454545"/>
<rect x="5.1" y="18" width="1.2" height="11.5" fill="#646464"/>
<rect x="8.2" y="19" width="0.9" height="10.5" fill="#333333"/>
<rect x="11.1" y="18" width="1.2" height="11.5" fill="#646464"/>
<rect x="14.2" y="19" width="0.9" height="10.5" fill="#333333"/>
<rect x="17.1" y="18" width="1.2" height="11.5" fill="#646464"/>
<rect x="20.2" y="19" width="0.9" height="10.5" fill="#333333"/>
<rect x="23" y="18" width="1.2" height="11.5" fill="#646464"/>
<rect x="26.1" y="19" width="0.9" height="10.5" fill="#333333"/>
<rect x="29" y="18" width="1.2" height="11.5" fill="#646464"/>
<rect x="32.1" y="19" width="0.9" height="10.5" fill="#333333"/>
<g filter="url(#bl)">
<use href="#vW" x="5.7"/>
<use href="#vW" x="11.7"/>
<use href="#vW" x="17.7"/>
<use href="#vW" x="23.6"/>
<use href="#vW" x="29.6"/>
</g></g>
<g transform="translate(295,179)">
<rect width="36" height="29.5" fill="#3a3a3a"/>
<rect y="18.4" width="36" height="11.1" fill="#454545"/>
<rect y="18.4" width="36" height="11.1" fill="#4d4b52"/>
<rect x="3.3" y="19" width="1.4" height="10.5" fill="#5a3a78" opacity="0.3"/>
<rect x="6.7" y="19" width="1.3" height="10.5" fill="#3c6048" opacity="0.3"/>
<rect x="9.3" y="19" width="1.4" height="10.5" fill="#5a3a78" opacity="0.3"/>
<rect x="12.7" y="19" width="1.3" height="10.5" fill="#3c6048" opacity="0.3"/>
<rect x="15.3" y="19" width="1.4" height="10.5" fill="#5a3a78" opacity="0.3"/>
<rect x="18.7" y="19" width="1.3" height="10.5" fill="#3c6048" opacity="0.3"/>
<rect x="21.2" y="19" width="1.4" height="10.5" fill="#5a3a78" opacity="0.3"/>
<rect x="24.6" y="19" width="1.3" height="10.5" fill="#3c6048" opacity="0.3"/>
<rect x="27.2" y="19" width="1.4" height="10.5" fill="#5a3a78" opacity="0.3"/>
<rect x="30.6" y="19" width="1.3" height="10.5" fill="#3c6048" opacity="0.3"/>
<rect x="5.1" y="18" width="1.2" height="11.5" fill="#646464"/>
<rect x="8.2" y="19" width="0.9" height="10.5" fill="#333333"/>
<rect x="11.1" y="18" width="1.2" height="11.5" fill="#646464"/>
<rect x="14.2" y="19" width="0.9" height="10.5" fill="#333333"/>
<rect x="17.1" y="18" width="1.2" height="11.5" fill="#646464"/>
<rect x="20.2" y="19" width="0.9" height="10.5" fill="#333333"/>
<rect x="23" y="18" width="1.2" height="11.5" fill="#646464"/>
<rect x="26.1" y="19" width="0.9" height="10.5" fill="#333333"/>
<rect x="29" y="18" width="1.2" height="11.5" fill="#646464"/>
<rect x="32.1" y="19" width="0.9" height="10.5" fill="#333333"/>
<g filter="url(#bl)">
<use href="#vT" x="5.7"/>
<use href="#vM" x="11.7"/>
<use href="#vM" x="17.7"/>
<use href="#vM" x="23.6"/>
<use href="#vM" x="29.6"/>
</g></g>
<g transform="translate(333,179)">
<rect width="36" height="29.5" fill="#3a3a3a"/>
<rect y="18.4" width="36" height="11.1" fill="#454545"/>
<rect y="18.4" width="36" height="11.1" fill="#4d4b52"/>
<rect x="3.3" y="19" width="1.4" height="10.5" fill="#5a3a78" opacity="0.3"/>
<rect x="6.7" y="19" width="1.3" height="10.5" fill="#3c6048" opacity="0.3"/>
<rect x="9.3" y="19" width="1.4" height="10.5" fill="#5a3a78" opacity="0.3"/>
<rect x="12.7" y="19" width="1.3" height="10.5" fill="#3c6048" opacity="0.3"/>
<rect x="15.3" y="19" width="1.4" height="10.5" fill="#5a3a78" opacity="0.3"/>
<rect x="18.7" y="19" width="1.3" height="10.5" fill="#3c6048" opacity="0.3"/>
<rect x="21.2" y="19" width="1.4" height="10.5" fill="#5a3a78" opacity="0.3"/>
<rect x="24.6" y="19" width="1.3" height="10.5" fill="#3c6048" opacity="0.3"/>
<rect x="27.2" y="19" width="1.4" height="10.5" fill="#5a3a78" opacity="0.3"/>
<rect x="30.6" y="19" width="1.3" height="10.5" fill="#3c6048" opacity="0.3"/>
<rect x="5.1" y="18" width="1.2" height="11.5" fill="#646464"/>
<rect x="8.2" y="19" width="0.9" height="10.5" fill="#333333"/>
<rect x="11.1" y="18" width="1.2" height="11.5" fill="#646464"/>
<rect x="14.2" y="19" width="0.9" height="10.5" fill="#333333"/>
<rect x="17.1" y="18" width="1.2" height="11.5" fill="#646464"/>
<rect x="20.2" y="19" width="0.9" height="10.5" fill="#333333"/>
<rect x="23" y="18" width="1.2" height="11.5" fill="#646464"/>
<rect x="26.1" y="19" width="0.9" height="10.5" fill="#333333"/>
<rect x="29" y="18" width="1.2" height="11.5" fill="#646464"/>
<rect x="32.1" y="19" width="0.9" height="10.5" fill="#333333"/>
<g filter="url(#bl)">
<use href="#vM" x="5.7"/>
<use href="#vM" x="11.7"/>
<use href="#vM" x="17.7"/>
<use href="#vM" x="23.6"/>
<use href="#vM" x="29.6"/>
</g></g>
<g transform="translate(371,179)">
<rect width="35" height="29.5" fill="#3a3a3a"/>
<rect y="18.4" width="35" height="11.1" fill="#454545"/>
<rect y="18.4" width="35" height="11.1" fill="#4d4b52"/>
<rect x="2.8" y="19" width="1.4" height="10.5" fill="#5a3a78" opacity="0.3"/>
<rect x="6.2" y="19" width="1.3" height="10.5" fill="#3c6048" opacity="0.3"/>
<rect x="8.9" y="19" width="1.4" height="10.5" fill="#5a3a78" opacity="0.3"/>
<rect x="12.3" y="19" width="1.3" height="10.5" fill="#3c6048" opacity="0.3"/>
<rect x="15" y="19" width="1.4" height="10.5" fill="#5a3a78" opacity="0.3"/>
<rect x="18.4" y="19" width="1.3" height="10.5" fill="#3c6048" opacity="0.3"/>
<rect x="20.9" y="19" width="1.4" height="10.5" fill="#5a3a78" opacity="0.3"/>
<rect x="24.3" y="19" width="1.3" height="10.5" fill="#3c6048" opacity="0.3"/>
<rect x="26.8" y="19" width="1.4" height="10.5" fill="#5a3a78" opacity="0.3"/>
<rect x="30.2" y="19" width="1.3" height="10.5" fill="#3c6048" opacity="0.3"/>
<rect x="4.6" y="18" width="1.2" height="11.5" fill="#646464"/>
<rect x="7.7" y="19" width="0.9" height="10.5" fill="#333333"/>
<rect x="10.7" y="18" width="1.2" height="11.5" fill="#646464"/>
<rect x="13.8" y="19" width="0.9" height="10.5" fill="#333333"/>
<rect x="16.8" y="18" width="1.2" height="11.5" fill="#646464"/>
<rect x="19.9" y="19" width="0.9" height="10.5" fill="#333333"/>
<rect x="22.7" y="18" width="1.2" height="11.5" fill="#646464"/>
<rect x="25.8" y="19" width="0.9" height="10.5" fill="#333333"/>
<rect x="28.6" y="18" width="1.2" height="11.5" fill="#646464"/>
<rect x="31.7" y="19" width="0.9" height="10.5" fill="#333333"/>
<g filter="url(#bl)">
<use href="#vM" x="5.2"/>
<use href="#vM" x="11.3"/>
<use href="#vM" x="17.4"/>
<use href="#vM" x="23.3"/>
<use href="#vM" x="29.2"/>
</g></g>
<g transform="translate(408,179)">
<rect width="35" height="29.5" fill="#3a3a3a"/>
<rect y="18.4" width="35" height="11.1" fill="#454545"/>
<rect y="18.4" width="35" height="11.1" fill="#4d4b52"/>
<rect x="2.8" y="19" width="1.4" height="10.5" fill="#5a3a78" opacity="0.3"/>
<rect x="6.2" y="19" width="1.3" height="10.5" fill="#3c6048" opacity="0.3"/>
<rect x="8.9" y="19" width="1.4" height="10.5" fill="#5a3a78" opacity="0.3"/>
<rect x="12.3" y="19" width="1.3" height="10.5" fill="#3c6048" opacity="0.3"/>
<rect x="15" y="19" width="1.4" height="10.5" fill="#5a3a78" opacity="0.3"/>
<rect x="18.4" y="19" width="1.3" height="10.5" fill="#3c6048" opacity="0.3"/>
<rect x="20.9" y="19" width="1.4" height="10.5" fill="#5a3a78" opacity="0.3"/>
<rect x="24.3" y="19" width="1.3" height="10.5" fill="#3c6048" opacity="0.3"/>
<rect x="26.8" y="19" width="1.4" height="10.5" fill="#5a3a78" opacity="0.3"/>
<rect x="30.2" y="19" width="1.3" height="10.5" fill="#3c6048" opacity="0.3"/>
<rect x="4.6" y="18" width="1.2" height="11.5" fill="#646464"/>
<rect x="7.7" y="19" width="0.9" height="10.5" fill="#333333"/>
<rect x="10.7" y="18" width="1.2" height="11.5" fill="#646464"/>
<rect x="13.8" y="19" width="0.9" height="10.5" fill="#333333"/>
<rect x="16.8" y="18" width="1.2" height="11.5" fill="#646464"/>
<rect x="19.9" y="19" width="0.9" height="10.5" fill="#333333"/>
<rect x="22.7" y="18" width="1.2" height="11.5" fill="#646464"/>
<rect x="25.8" y="19" width="0.9" height="10.5" fill="#333333"/>
<rect x="28.6" y="18" width="1.2" height="11.5" fill="#646464"/>
<rect x="31.7" y="19" width="0.9" height="10.5" fill="#333333"/>
<g filter="url(#bl)">
<use href="#vM" x="5.2"/>
<use href="#vW" x="11.3"/>
<use href="#vM" x="17.4"/>
<use href="#vM" x="23.3"/>
<use href="#vT" x="29.2"/>
</g></g>
<g transform="translate(444,179)">
<rect width="36" height="29.5" fill="#3a3a3a"/>
<rect y="18.4" width="36" height="11.1" fill="#454545"/>
<rect x="5.1" y="18" width="1.2" height="11.5" fill="#646464"/>
<rect x="8.2" y="19" width="0.9" height="10.5" fill="#333333"/>
<rect x="11.1" y="18" width="1.2" height="11.5" fill="#646464"/>
<rect x="14.2" y="19" width="0.9" height="10.5" fill="#333333"/>
<rect x="17.1" y="18" width="1.2" height="11.5" fill="#646464"/>
<rect x="20.2" y="19" width="0.9" height="10.5" fill="#333333"/>
<rect x="23" y="18" width="1.2" height="11.5" fill="#646464"/>
<rect x="26.1" y="19" width="0.9" height="10.5" fill="#333333"/>
<rect x="29" y="18" width="1.2" height="11.5" fill="#646464"/>
<rect x="32.1" y="19" width="0.9" height="10.5" fill="#333333"/>
<g filter="url(#bl)">
<use href="#vW" x="5.7"/>
<use href="#vW" x="11.7"/>
<use href="#vW" x="17.7"/>
<use href="#vW" x="23.6"/>
<use href="#vW" x="29.6"/>
</g></g>
<g transform="translate(295,210)">
<rect width="36" height="29.5" fill="#3a3a3a"/>
<rect y="18.4" width="36" height="11.1" fill="#454545"/>
<rect y="18.4" width="36" height="11.1" fill="#4d4b52"/>
<rect x="3.3" y="19" width="1.4" height="10.5" fill="#5a3a78" opacity="0.3"/>
<rect x="6.7" y="19" width="1.3" height="10.5" fill="#3c6048" opacity="0.3"/>
<rect x="9.3" y="19" width="1.4" height="10.5" fill="#5a3a78" opacity="0.3"/>
<rect x="12.7" y="19" width="1.3" height="10.5" fill="#3c6048" opacity="0.3"/>
<rect x="15.3" y="19" width="1.4" height="10.5" fill="#5a3a78" opacity="0.3"/>
<rect x="18.7" y="19" width="1.3" height="10.5" fill="#3c6048" opacity="0.3"/>
<rect x="21.2" y="19" width="1.4" height="10.5" fill="#5a3a78" opacity="0.3"/>
<rect x="24.6" y="19" width="1.3" height="10.5" fill="#3c6048" opacity="0.3"/>
<rect x="27.2" y="19" width="1.4" height="10.5" fill="#5a3a78" opacity="0.3"/>
<rect x="30.6" y="19" width="1.3" height="10.5" fill="#3c6048" opacity="0.3"/>
<rect x="5.1" y="18" width="1.2" height="11.5" fill="#646464"/>
<rect x="8.2" y="19" width="0.9" height="10.5" fill="#333333"/>
<rect x="11.1" y="18" width="1.2" height="11.5" fill="#646464"/>
<rect x="14.2" y="19" width="0.9" height="10.5" fill="#333333"/>
<rect x="17.1" y="18" width="1.2" height="11.5" fill="#646464"/>
<rect x="20.2" y="19" width="0.9" height="10.5" fill="#333333"/>
<rect x="23" y="18" width="1.2" height="11.5" fill="#646464"/>
<rect x="26.1" y="19" width="0.9" height="10.5" fill="#333333"/>
<rect x="29" y="18" width="1.2" height="11.5" fill="#646464"/>
<rect x="32.1" y="19" width="0.9" height="10.5" fill="#333333"/>
<g filter="url(#bl)">
<use href="#vO" x="5.7"/>
<use href="#vO" x="11.7"/>
<use href="#vO" x="17.7"/>
<use href="#vO" x="23.6"/>
<use href="#vO" x="29.6"/>
</g></g>
<g transform="translate(333,210)">
<rect width="36" height="29.5" fill="#3a3a3a"/>
<rect y="18.4" width="36" height="11.1" fill="#454545"/>
<rect y="18.4" width="36" height="11.1" fill="#4d4b52"/>
<rect x="3.3" y="19" width="1.4" height="10.5" fill="#5a3a78" opacity="0.3"/>
<rect x="6.7" y="19" width="1.3" height="10.5" fill="#3c6048" opacity="0.3"/>
<rect x="9.3" y="19" width="1.4" height="10.5" fill="#5a3a78" opacity="0.3"/>
<rect x="12.7" y="19" width="1.3" height="10.5" fill="#3c6048" opacity="0.3"/>
<rect x="15.3" y="19" width="1.4" height="10.5" fill="#5a3a78" opacity="0.3"/>
<rect x="18.7" y="19" width="1.3" height="10.5" fill="#3c6048" opacity="0.3"/>
<rect x="21.2" y="19" width="1.4" height="10.5" fill="#5a3a78" opacity="0.3"/>
<rect x="24.6" y="19" width="1.3" height="10.5" fill="#3c6048" opacity="0.3"/>
<rect x="27.2" y="19" width="1.4" height="10.5" fill="#5a3a78" opacity="0.3"/>
<rect x="30.6" y="19" width="1.3" height="10.5" fill="#3c6048" opacity="0.3"/>
<rect x="5.1" y="18" width="1.2" height="11.5" fill="#646464"/>
<rect x="8.2" y="19" width="0.9" height="10.5" fill="#333333"/>
<rect x="11.1" y="18" width="1.2" height="11.5" fill="#646464"/>
<rect x="14.2" y="19" width="0.9" height="10.5" fill="#333333"/>
<rect x="17.1" y="18" width="1.2" height="11.5" fill="#646464"/>
<rect x="20.2" y="19" width="0.9" height="10.5" fill="#333333"/>
<rect x="23" y="18" width="1.2" height="11.5" fill="#646464"/>
<rect x="26.1" y="19" width="0.9" height="10.5" fill="#333333"/>
<rect x="29" y="18" width="1.2" height="11.5" fill="#646464"/>
<rect x="32.1" y="19" width="0.9" height="10.5" fill="#333333"/>
<g filter="url(#bl)">
<use href="#vO" x="5.7"/>
<use href="#vO" x="11.7"/>
<use href="#vO" x="17.7"/>
<use href="#vO" x="23.6"/>
<use href="#vO" x="29.6"/>
</g></g>
<g transform="translate(371,210)">
<rect width="35" height="29.5" fill="#3a3a3a"/>
<rect y="18.4" width="35" height="11.1" fill="#454545"/>
<rect y="18.4" width="35" height="11.1" fill="#4d4b52"/>
<rect x="2.8" y="19" width="1.4" height="10.5" fill="#5a3a78" opacity="0.3"/>
<rect x="6.2" y="19" width="1.3" height="10.5" fill="#3c6048" opacity="0.3"/>
<rect x="8.9" y="19" width="1.4" height="10.5" fill="#5a3a78" opacity="0.3"/>
<rect x="12.3" y="19" width="1.3" height="10.5" fill="#3c6048" opacity="0.3"/>
<rect x="15" y="19" width="1.4" height="10.5" fill="#5a3a78" opacity="0.3"/>
<rect x="18.4" y="19" width="1.3" height="10.5" fill="#3c6048" opacity="0.3"/>
<rect x="20.9" y="19" width="1.4" height="10.5" fill="#5a3a78" opacity="0.3"/>
<rect x="24.3" y="19" width="1.3" height="10.5" fill="#3c6048" opacity="0.3"/>
<rect x="26.8" y="19" width="1.4" height="10.5" fill="#5a3a78" opacity="0.3"/>
<rect x="30.2" y="19" width="1.3" height="10.5" fill="#3c6048" opacity="0.3"/>
<rect x="4.6" y="18" width="1.2" height="11.5" fill="#646464"/>
<rect x="7.7" y="19" width="0.9" height="10.5" fill="#333333"/>
<rect x="10.7" y="18" width="1.2" height="11.5" fill="#646464"/>
<rect x="13.8" y="19" width="0.9" height="10.5" fill="#333333"/>
<rect x="16.8" y="18" width="1.2" height="11.5" fill="#646464"/>
<rect x="19.9" y="19" width="0.9" height="10.5" fill="#333333"/>
<rect x="22.7" y="18" width="1.2" height="11.5" fill="#646464"/>
<rect x="25.8" y="19" width="0.9" height="10.5" fill="#333333"/>
<rect x="28.6" y="18" width="1.2" height="11.5" fill="#646464"/>
<rect x="31.7" y="19" width="0.9" height="10.5" fill="#333333"/>
<g filter="url(#bl)">
<use href="#vO" x="5.2"/>
<use href="#vO" x="11.3"/>
<use href="#vO" x="17.4"/>
<use href="#vO" x="23.3"/>
<use href="#vO" x="29.2"/>
</g></g>
<g transform="translate(408,210)">
<rect width="35" height="29.5" fill="#3a3a3a"/>
<rect y="18.4" width="35" height="11.1" fill="#454545"/>
<rect y="18.4" width="35" height="11.1" fill="#4d4b52"/>
<rect x="2.8" y="19" width="1.4" height="10.5" fill="#5a3a78" opacity="0.3"/>
<rect x="6.2" y="19" width="1.3" height="10.5" fill="#3c6048" opacity="0.3"/>
<rect x="8.9" y="19" width="1.4" height="10.5" fill="#5a3a78" opacity="0.3"/>
<rect x="12.3" y="19" width="1.3" height="10.5" fill="#3c6048" opacity="0.3"/>
<rect x="15" y="19" width="1.4" height="10.5" fill="#5a3a78" opacity="0.3"/>
<rect x="18.4" y="19" width="1.3" height="10.5" fill="#3c6048" opacity="0.3"/>
<rect x="20.9" y="19" width="1.4" height="10.5" fill="#5a3a78" opacity="0.3"/>
<rect x="24.3" y="19" width="1.3" height="10.5" fill="#3c6048" opacity="0.3"/>
<rect x="26.8" y="19" width="1.4" height="10.5" fill="#5a3a78" opacity="0.3"/>
<rect x="30.2" y="19" width="1.3" height="10.5" fill="#3c6048" opacity="0.3"/>
<rect x="4.6" y="18" width="1.2" height="11.5" fill="#646464"/>
<rect x="7.7" y="19" width="0.9" height="10.5" fill="#333333"/>
<rect x="10.7" y="18" width="1.2" height="11.5" fill="#646464"/>
<rect x="13.8" y="19" width="0.9" height="10.5" fill="#333333"/>
<rect x="16.8" y="18" width="1.2" height="11.5" fill="#646464"/>
<rect x="19.9" y="19" width="0.9" height="10.5" fill="#333333"/>
<rect x="22.7" y="18" width="1.2" height="11.5" fill="#646464"/>
<rect x="25.8" y="19" width="0.9" height="10.5" fill="#333333"/>
<rect x="28.6" y="18" width="1.2" height="11.5" fill="#646464"/>
<rect x="31.7" y="19" width="0.9" height="10.5" fill="#333333"/>
<g filter="url(#bl)">
<use href="#vV" x="5.2"/>
<use href="#vV" x="11.3"/>
<use href="#vV" x="17.4"/>
<use href="#vV" x="23.3"/>
<use href="#vV" x="29.2"/>
</g></g>
<g transform="translate(444,210)">
<rect width="36" height="29.5" fill="#3a3a3a"/>
<rect y="18.4" width="36" height="11.1" fill="#454545"/>
<rect y="18.4" width="36" height="11.1" fill="#4d4b52"/>
<rect x="3.3" y="19" width="1.4" height="10.5" fill="#5a3a78" opacity="0.3"/>
<rect x="6.7" y="19" width="1.3" height="10.5" fill="#3c6048" opacity="0.3"/>
<rect x="9.3" y="19" width="1.4" height="10.5" fill="#5a3a78" opacity="0.3"/>
<rect x="12.7" y="19" width="1.3" height="10.5" fill="#3c6048" opacity="0.3"/>
<rect x="15.3" y="19" width="1.4" height="10.5" fill="#5a3a78" opacity="0.3"/>
<rect x="18.7" y="19" width="1.3" height="10.5" fill="#3c6048" opacity="0.3"/>
<rect x="21.2" y="19" width="1.4" height="10.5" fill="#5a3a78" opacity="0.3"/>
<rect x="24.6" y="19" width="1.3" height="10.5" fill="#3c6048" opacity="0.3"/>
<rect x="27.2" y="19" width="1.4" height="10.5" fill="#5a3a78" opacity="0.3"/>
<rect x="30.6" y="19" width="1.3" height="10.5" fill="#3c6048" opacity="0.3"/>
<rect x="5.1" y="18" width="1.2" height="11.5" fill="#646464"/>
<rect x="8.2" y="19" width="0.9" height="10.5" fill="#333333"/>
<rect x="11.1" y="18" width="1.2" height="11.5" fill="#646464"/>
<rect x="14.2" y="19" width="0.9" height="10.5" fill="#333333"/>
<rect x="17.1" y="18" width="1.2" height="11.5" fill="#646464"/>
<rect x="20.2" y="19" width="0.9" height="10.5" fill="#333333"/>
<rect x="23" y="18" width="1.2" height="11.5" fill="#646464"/>
<rect x="26.1" y="19" width="0.9" height="10.5" fill="#333333"/>
<rect x="29" y="18" width="1.2" height="11.5" fill="#646464"/>
<rect x="32.1" y="19" width="0.9" height="10.5" fill="#333333"/>
<g filter="url(#bl)">
<use href="#vR" x="5.7"/>
<use href="#vW" x="11.7"/>
<use href="#vR" x="17.7"/>
<use href="#vR" x="23.6"/>
<use href="#vW" x="29.6"/>
</g></g>
<g transform="translate(319.8,40.8) rotate(-45)">
<text x="0" y="2.3" font-size="6.5" fill="#2e2e2e" text-anchor="middle" stroke="#2e2e2e" stroke-width="0.05">Control</text>
</g>
<g transform="translate(353.6,39.4) rotate(-45)">
<text x="0" y="-1.65" font-size="6.5" fill="#2e2e2e" text-anchor="middle" stroke="#2e2e2e" stroke-width="0.05">CD19/CD3</text>
<text x="0" y="6.25" font-size="6.5" fill="#2e2e2e" text-anchor="middle" stroke="#2e2e2e" stroke-width="0.05">HCT</text>
</g>
<g transform="translate(392.8,39.4) rotate(-45)">
<text x="0" y="-1.65" font-size="6.5" fill="#2e2e2e" text-anchor="middle" stroke="#2e2e2e" stroke-width="0.05">CD22/CD3</text>
<text x="0" y="6.25" font-size="6.5" fill="#2e2e2e" text-anchor="middle" stroke="#2e2e2e" stroke-width="0.05">LCT</text>
</g>
<g transform="translate(433.9,27.3) rotate(-45)">
<text x="0" y="-5.6" font-size="6.5" fill="#2e2e2e" text-anchor="middle" stroke="#2e2e2e" stroke-width="0.05">CD19/CD3 HCT</text>
<text x="0" y="2.3" font-size="6.5" fill="#2e2e2e" text-anchor="middle" stroke="#2e2e2e" stroke-width="0.05">+</text>
<text x="0" y="10.2" font-size="6.5" fill="#2e2e2e" text-anchor="middle" stroke="#2e2e2e" stroke-width="0.05">CD22/CD3 LCT</text>
</g>
<g transform="translate(480.6,26.6) rotate(-45)">
<text x="0" y="2.3" font-size="6.5" fill="#2e2e2e" text-anchor="middle" stroke="#2e2e2e" stroke-width="0.05">CD19/CD22/CD3 (CC)</text>
</g>
<rect x="484.2" y="87.8" width="3.8" height="124.8" fill="url(#cb)"/>
<path d="M488,87.8 h3.4" stroke="#222" stroke-width="0.7"/>
<path d="M488,94.04 h1.7" stroke="#222" stroke-width="0.7"/>
<path d="M488,100.28 h1.7" stroke="#222" stroke-width="0.7"/>
<path d="M488,106.52 h1.7" stroke="#222" stroke-width="0.7"/>
<path d="M488,112.76 h1.7" stroke="#222" stroke-width="0.7"/>
<path d="M488,119 h3.4" stroke="#222" stroke-width="0.7"/>
<path d="M488,125.24 h1.7" stroke="#222" stroke-width="0.7"/>
<path d="M488,131.48 h1.7" stroke="#222" stroke-width="0.7"/>
<path d="M488,137.72 h1.7" stroke="#222" stroke-width="0.7"/>
<path d="M488,143.96 h1.7" stroke="#222" stroke-width="0.7"/>
<path d="M488,150.2 h3.4" stroke="#222" stroke-width="0.7"/>
<path d="M488,156.44 h1.7" stroke="#222" stroke-width="0.7"/>
<path d="M488,162.68 h1.7" stroke="#222" stroke-width="0.7"/>
<path d="M488,168.92 h1.7" stroke="#222" stroke-width="0.7"/>
<path d="M488,175.16 h1.7" stroke="#222" stroke-width="0.7"/>
<path d="M488,181.4 h3.4" stroke="#222" stroke-width="0.7"/>
<path d="M488,187.64 h1.7" stroke="#222" stroke-width="0.7"/>
<path d="M488,193.88 h1.7" stroke="#222" stroke-width="0.7"/>
<path d="M488,200.12 h1.7" stroke="#222" stroke-width="0.7"/>
<path d="M488,206.36 h1.7" stroke="#222" stroke-width="0.7"/>
<path d="M488,212.6 h3.4" stroke="#222" stroke-width="0.7"/>
<path d="M484.2,87.8 h7.2" stroke="#222" stroke-width="0.8"/><path d="M488.3,87.8 V212.6" stroke="#333" stroke-width="0.5"/>
<text x="495.2" y="90.2" font-size="6.6" fill="#2e2e2e" stroke="#2e2e2e" stroke-width="0.14">6.0</text>
<text x="495.2" y="121.4" font-size="6.6" fill="#2e2e2e" stroke="#2e2e2e" stroke-width="0.14">5.5</text>
<text x="495.2" y="183.8" font-size="6.6" fill="#2e2e2e" stroke="#2e2e2e" stroke-width="0.14">4.5</text>
<text x="495.2" y="153" font-size="6.6" fill="#2e2e2e" stroke="#2e2e2e" stroke-width="0.14">5.0 ×10<tspan font-size="3.8" dy="-2.6">7</tspan></text>
<text x="484.4" y="219.2" font-size="3.9" fill="#2e2e2e">Radiance</text>
<text x="484.4" y="224.6" font-size="3.9" fill="#2e2e2e">(p/sec/cm²/sr)</text>
<rect x="485.4" y="227.2" width="31" height="18.2" fill="none" stroke="#222" stroke-width="0.6"/>
<text x="487.6" y="232.6" font-size="3.9" fill="#2e2e2e">Color Scale</text>
<text x="487.4" y="237.5" font-size="3.9" fill="#2e2e2e">Min = 4.00e7</text>
<text x="487.4" y="242.6" font-size="3.9" fill="#2e2e2e">Max = 6.00e7</text>
<text x="2.6" y="93" font-size="12" font-weight="bold" fill="#111" stroke="#111" stroke-width="0.35">C</text>
<text x="59.0" y="93.6" font-size="6.5" fill="#2e2e2e" stroke="#2e2e2e" stroke-width="0.14">Control</text>
<path d="M46.4,91.3 h9.2" stroke="#F2A51C" stroke-width="1.2"/>
<circle cx="51" cy="91.3" r="1.49" fill="#F2A51C"/>
<text x="59.0" y="101.9" font-size="6.5" fill="#2e2e2e" stroke="#2e2e2e" stroke-width="0.14">CD19/CD3 HCT</text>
<path d="M46.4,99.6 h9.2" stroke="#1D5C8E" stroke-width="1.2"/>
<rect x="49.65" y="98.25" width="2.7" height="2.7" fill="#1D5C8E"/>
<text x="59.0" y="110.4" font-size="6.5" fill="#2e2e2e" stroke="#2e2e2e" stroke-width="0.14">CD22/CD3 LCT</text>
<path d="M46.4,108.1 h9.2" stroke="#4DB74A" stroke-width="1.2"/>
<path d="M51,106.61 L52.35,109.11 L49.65,109.11Z" fill="#4DB74A"/>
<text x="59.0" y="119.4" font-size="6.5" fill="#2e2e2e" stroke="#2e2e2e" stroke-width="0.14">CD19/CD3 HCT +</text>
<path d="M46.4,117.1 h9.2" stroke="#5A2A7E" stroke-width="1.2"/>
<path d="M51,118.58 L52.35,116.09 L49.65,116.09Z" fill="#5A2A7E"/>
<text x="59.0" y="127.8" font-size="6.5" fill="#2e2e2e" stroke="#2e2e2e" stroke-width="0.14">CD22/CD3 LCT</text>
<text x="59.0" y="136.1" font-size="6.5" fill="#2e2e2e" stroke="#2e2e2e" stroke-width="0.14">CD19/CD22/CD3 (CC)</text>
<path d="M46.4,133.8 h9.2" stroke="#C8102E" stroke-width="1.2"/>
<path d="M51,132.31 L52.35,133.8 L51,135.29 L49.65,133.8Z" fill="#C8102E"/>
<path d="M41.6,143.3 V200.6 H125.6" fill="none" stroke="#111" stroke-width="0.9"/>
<path d="M41.6,200.6 h-2.4" stroke="#111" stroke-width="0.7"/>
<path d="M41.6,198.48 h-1.1" stroke="#111" stroke-width="0.7"/>
<path d="M41.6,196.35 h-1.1" stroke="#111" stroke-width="0.7"/>
<path d="M41.6,194.23 h-1.1" stroke="#111" stroke-width="0.7"/>
<path d="M41.6,192.1 h-1.1" stroke="#111" stroke-width="0.7"/>
<path d="M41.6,189.98 h-2.4" stroke="#111" stroke-width="0.7"/>
<path d="M41.6,187.86 h-1.1" stroke="#111" stroke-width="0.7"/>
<path d="M41.6,185.73 h-1.1" stroke="#111" stroke-width="0.7"/>
<path d="M41.6,183.61 h-1.1" stroke="#111" stroke-width="0.7"/>
<path d="M41.6,181.48 h-1.1" stroke="#111" stroke-width="0.7"/>
<path d="M41.6,179.36 h-2.4" stroke="#111" stroke-width="0.7"/>
<path d="M41.6,177.24 h-1.1" stroke="#111" stroke-width="0.7"/>
<path d="M41.6,175.11 h-1.1" stroke="#111" stroke-width="0.7"/>
<path d="M41.6,172.99 h-1.1" stroke="#111" stroke-width="0.7"/>
<path d="M41.6,170.86 h-1.1" stroke="#111" stroke-width="0.7"/>
<path d="M41.6,168.74 h-2.4" stroke="#111" stroke-width="0.7"/>
<path d="M41.6,166.62 h-1.1" stroke="#111" stroke-width="0.7"/>
<path d="M41.6,164.49 h-1.1" stroke="#111" stroke-width="0.7"/>
<path d="M41.6,162.37 h-1.1" stroke="#111" stroke-width="0.7"/>
<path d="M41.6,160.24 h-1.1" stroke="#111" stroke-width="0.7"/>
<path d="M41.6,158.12 h-2.4" stroke="#111" stroke-width="0.7"/>
<path d="M41.6,156 h-1.1" stroke="#111" stroke-width="0.7"/>
<path d="M41.6,153.87 h-1.1" stroke="#111" stroke-width="0.7"/>
<path d="M41.6,151.75 h-1.1" stroke="#111" stroke-width="0.7"/>
<path d="M41.6,149.62 h-1.1" stroke="#111" stroke-width="0.7"/>
<path d="M41.6,147.5 h-2.4" stroke="#111" stroke-width="0.7"/>
<path d="M42.7,200.6 v2.2" stroke="#111" stroke-width="0.7"/>
<path d="M47.77,200.6 v1.2" stroke="#111" stroke-width="0.7"/>
<path d="M52.84,200.6 v2.2" stroke="#111" stroke-width="0.7"/>
<path d="M57.91,200.6 v1.2" stroke="#111" stroke-width="0.7"/>
<path d="M62.98,200.6 v2.2" stroke="#111" stroke-width="0.7"/>
<path d="M68.05,200.6 v1.2" stroke="#111" stroke-width="0.7"/>
<path d="M73.12,200.6 v2.2" stroke="#111" stroke-width="0.7"/>
<path d="M78.19,200.6 v1.2" stroke="#111" stroke-width="0.7"/>
<path d="M83.26,200.6 v2.2" stroke="#111" stroke-width="0.7"/>
<path d="M88.33,200.6 v1.2" stroke="#111" stroke-width="0.7"/>
<path d="M93.4,200.6 v2.2" stroke="#111" stroke-width="0.7"/>
<path d="M98.47,200.6 v1.2" stroke="#111" stroke-width="0.7"/>
<path d="M103.54,200.6 v2.2" stroke="#111" stroke-width="0.7"/>
<path d="M108.61,200.6 v1.2" stroke="#111" stroke-width="0.7"/>
<path d="M113.68,200.6 v2.2" stroke="#111" stroke-width="0.7"/>
<path d="M118.75,200.6 v1.2" stroke="#111" stroke-width="0.7"/>
<path d="M123.82,200.6 v2.2" stroke="#111" stroke-width="0.7"/>
<text x="42.7" y="212.1" font-size="6.5" fill="#2e2e2e" text-anchor="middle" stroke="#2e2e2e" stroke-width="0.14">4</text>
<text x="52.84" y="212.1" font-size="6.5" fill="#2e2e2e" text-anchor="middle" stroke="#2e2e2e" stroke-width="0.14">6</text>
<text x="62.98" y="212.1" font-size="6.5" fill="#2e2e2e" text-anchor="middle" stroke="#2e2e2e" stroke-width="0.14">8</text>
<text x="73.12" y="212.1" font-size="6.5" fill="#2e2e2e" text-anchor="middle" stroke="#2e2e2e" stroke-width="0.14">10</text>
<text x="83.26" y="212.1" font-size="6.5" fill="#2e2e2e" text-anchor="middle" stroke="#2e2e2e" stroke-width="0.14">12</text>
<text x="93.4" y="212.1" font-size="6.5" fill="#2e2e2e" text-anchor="middle" stroke="#2e2e2e" stroke-width="0.14">14</text>
<text x="103.54" y="212.1" font-size="6.5" fill="#2e2e2e" text-anchor="middle" stroke="#2e2e2e" stroke-width="0.14">16</text>
<text x="113.68" y="212.1" font-size="6.5" fill="#2e2e2e" text-anchor="middle" stroke="#2e2e2e" stroke-width="0.14">18</text>
<text x="123.82" y="212.1" font-size="6.5" fill="#2e2e2e" text-anchor="middle" stroke="#2e2e2e" stroke-width="0.14">20</text>
<text x="36.1" y="202.8" font-size="6.3" fill="#2e2e2e" text-anchor="end" stroke="#2e2e2e" stroke-width="0.14">0</text>
<text x="35.4" y="192.18" font-size="6.3" fill="#2e2e2e" text-anchor="end" stroke="#2e2e2e" stroke-width="0.14">5×10<tspan font-size="3.8" dy="-2.6">6</tspan></text>
<text x="35.4" y="181.56" font-size="6.3" fill="#2e2e2e" text-anchor="end" stroke="#2e2e2e" stroke-width="0.14">1×10<tspan font-size="3.8" dy="-2.6">7</tspan></text>
<text x="35.4" y="170.94" font-size="6.3" fill="#2e2e2e" text-anchor="end" stroke="#2e2e2e" stroke-width="0.14">1.5×10<tspan font-size="3.8" dy="-2.6">7</tspan></text>
<text x="35.4" y="160.32" font-size="6.3" fill="#2e2e2e" text-anchor="end" stroke="#2e2e2e" stroke-width="0.14">2×10<tspan font-size="3.8" dy="-2.6">7</tspan></text>
<text x="35.4" y="149.7" font-size="6.3" fill="#2e2e2e" text-anchor="end" stroke="#2e2e2e" stroke-width="0.14">2.5×10<tspan font-size="3.8" dy="-2.6">7</tspan></text>
<text x="83.7" y="222.4" font-size="6.1" fill="#2e2e2e" text-anchor="middle" stroke="#2e2e2e" stroke-width="0.14">Days</text>
<text transform="translate(7.6,171.5) rotate(-90)" font-size="6.1" fill="#2e2e2e" text-anchor="middle" stroke="#2e2e2e" stroke-width="0.14">Avg radiance [p/s/cm<tspan font-size="3.6" dy="-2.2">2</tspan><tspan dy="2.2">/sr]</tspan></text>
<path d="M47.77,200.6 L57.91,200.6 L73.12,197.41 L88.33,175.11 L103.54,168.32 L118.75,158.12" fill="none" stroke="#F2A51C" stroke-width="1.15"/>
<circle cx="47.77" cy="200.6" r="1.65" fill="#F2A51C"/>
<circle cx="57.91" cy="200.6" r="1.65" fill="#F2A51C"/>
<circle cx="73.12" cy="197.41" r="1.65" fill="#F2A51C"/>
<circle cx="88.33" cy="175.11" r="1.65" fill="#F2A51C"/>
<circle cx="103.54" cy="168.32" r="1.65" fill="#F2A51C"/>
<circle cx="118.75" cy="158.12" r="1.65" fill="#F2A51C"/>
<path d="M47.77,200.6 L57.91,200.6 L73.12,196.35 L88.33,178.51 L103.54,170.01 L118.75,158.12" fill="none" stroke="#4DB74A" stroke-width="1.15"/>
<path d="M47.77,198.95 L49.27,201.72 L46.27,201.72Z" fill="#4DB74A"/>
<path d="M57.91,198.95 L59.41,201.72 L56.41,201.72Z" fill="#4DB74A"/>
<path d="M73.12,194.7 L74.62,197.48 L71.62,197.48Z" fill="#4DB74A"/>
<path d="M88.33,176.86 L89.83,179.64 L86.83,179.64Z" fill="#4DB74A"/>
<path d="M103.54,168.36 L105.04,171.14 L102.04,171.14Z" fill="#4DB74A"/>
<path d="M118.75,156.47 L120.25,159.25 L117.25,159.25Z" fill="#4DB74A"/>
<path d="M47.77,200.6 L57.91,200.6 L73.12,198.9 L88.33,185.94 L103.54,170.86 L118.75,158.12" fill="none" stroke="#1D5C8E" stroke-width="1.15"/>
<rect x="46.27" y="199.1" width="3" height="3" fill="#1D5C8E"/>
<rect x="56.41" y="199.1" width="3" height="3" fill="#1D5C8E"/>
<rect x="71.62" y="197.4" width="3" height="3" fill="#1D5C8E"/>
<rect x="86.83" y="184.44" width="3" height="3" fill="#1D5C8E"/>
<rect x="102.04" y="169.36" width="3" height="3" fill="#1D5C8E"/>
<rect x="117.25" y="156.62" width="3" height="3" fill="#1D5C8E"/>
<path d="M47.77,200.6 L57.91,200.6 L73.12,199.96 L88.33,193.8 L103.54,179.36 L118.75,161.09" fill="none" stroke="#5A2A7E" stroke-width="1.15"/>
<path d="M47.77,202.25 L49.27,199.47 L46.27,199.47Z" fill="#5A2A7E"/>
<path d="M57.91,202.25 L59.41,199.47 L56.41,199.47Z" fill="#5A2A7E"/>
<path d="M73.12,201.61 L74.62,198.84 L71.62,198.84Z" fill="#5A2A7E"/>
<path d="M88.33,195.45 L89.83,192.68 L86.83,192.68Z" fill="#5A2A7E"/>
<path d="M103.54,181.01 L105.04,178.23 L102.04,178.23Z" fill="#5A2A7E"/>
<path d="M118.75,162.74 L120.25,159.97 L117.25,159.97Z" fill="#5A2A7E"/>
<path d="M47.77,200.6 L57.91,200.6 L73.12,200.6 L88.33,200.18 L103.54,198.48 L118.75,196.99" fill="none" stroke="#C8102E" stroke-width="1.15"/>
<path d="M47.77,198.95 L49.27,200.6 L47.77,202.25 L46.27,200.6Z" fill="#C8102E"/>
<path d="M57.91,198.95 L59.41,200.6 L57.91,202.25 L56.41,200.6Z" fill="#C8102E"/>
<path d="M73.12,198.95 L74.62,200.6 L73.12,202.25 L71.62,200.6Z" fill="#C8102E"/>
<path d="M88.33,198.53 L89.83,200.18 L88.33,201.83 L86.83,200.18Z" fill="#C8102E"/>
<path d="M103.54,196.83 L105.04,198.48 L103.54,200.13 L102.04,198.48Z" fill="#C8102E"/>
<path d="M118.75,195.34 L120.25,196.99 L118.75,198.64 L117.25,196.99Z" fill="#C8102E"/>
<path d="M103.54,176.17 V182.33 M102.24,176.17 h2.6 M102.24,182.33 h2.6" stroke="#5A2A7E" stroke-width="0.8"/>
<path d="M125.2,160.4 H126.6 V197.6 H125.2" fill="none" stroke="#111" stroke-width="0.7"/>
<text x="130.8" y="182" font-size="6.8" fill="#2e2e2e" stroke="#2e2e2e" stroke-width="0.14">***</text>
<text x="147.6" y="93" font-size="12" font-weight="bold" fill="#111" stroke="#111" stroke-width="0.35">D</text>
<text x="184.0" y="93.6" font-size="6.5" fill="#2e2e2e" stroke="#2e2e2e" stroke-width="0.14">Control</text>
<path d="M171.4,91.3 h9.2" stroke="#ecc860" stroke-width="1.2"/>
<text x="184.0" y="101.9" font-size="6.5" fill="#2e2e2e" stroke="#2e2e2e" stroke-width="0.14">CD19/CD3 HCT</text>
<path d="M171.4,99.6 h9.2" stroke="#5a84ac" stroke-width="1.2"/>
<text x="184.0" y="110.4" font-size="6.5" fill="#2e2e2e" stroke="#2e2e2e" stroke-width="0.14">CD22/CD3 LCT</text>
<path d="M171.4,108.1 h9.2" stroke="#80c080" stroke-width="1.2"/>
<text x="184.0" y="119.4" font-size="6.5" fill="#2e2e2e" stroke="#2e2e2e" stroke-width="0.14">CD19/CD3 HCT +</text>
<path d="M171.4,117.1 h9.2" stroke="#4a4058" stroke-width="1.2"/>
<text x="184.0" y="127.8" font-size="6.5" fill="#2e2e2e" stroke="#2e2e2e" stroke-width="0.14">CD22/CD3 LCT</text>
<text x="184.0" y="136.1" font-size="6.5" fill="#2e2e2e" stroke="#2e2e2e" stroke-width="0.14">CD19/CD22/CD3 (CC)</text>
<path d="M171.4,133.8 h9.2" stroke="#c02c5c" stroke-width="1.2"/>
<path d="M174.3,149.6 V200.5 H257.6" fill="none" stroke="#111" stroke-width="0.9"/>
<path d="M174.3,200.5 h-2.2" stroke="#111" stroke-width="0.7"/>
<text x="169.2" y="202.6" font-size="6.6" fill="#2e2e2e" text-anchor="end" stroke="#2e2e2e" stroke-width="0.14">0</text>
<path d="M174.3,188 h-2.2" stroke="#111" stroke-width="0.7"/>
<text x="169.2" y="190.1" font-size="6.6" fill="#2e2e2e" text-anchor="end" stroke="#2e2e2e" stroke-width="0.14">25</text>
<path d="M174.3,175.5 h-2.2" stroke="#111" stroke-width="0.7"/>
<text x="169.2" y="177.6" font-size="6.6" fill="#2e2e2e" text-anchor="end" stroke="#2e2e2e" stroke-width="0.14">50</text>
<path d="M174.3,163 h-2.2" stroke="#111" stroke-width="0.7"/>
<text x="169.2" y="165.1" font-size="6.6" fill="#2e2e2e" text-anchor="end" stroke="#2e2e2e" stroke-width="0.14">75</text>
<path d="M174.3,150.5 h-2.2" stroke="#111" stroke-width="0.7"/>
<text x="169.2" y="152.6" font-size="6.6" fill="#2e2e2e" text-anchor="end" stroke="#2e2e2e" stroke-width="0.14">100</text>
<path d="M174.9,200.5 v2.2" stroke="#111" stroke-width="0.7"/>
<path d="M182.82,200.5 v1.2" stroke="#111" stroke-width="0.7"/>
<path d="M190.74,200.5 v2.2" stroke="#111" stroke-width="0.7"/>
<path d="M198.66,200.5 v1.2" stroke="#111" stroke-width="0.7"/>
<path d="M206.58,200.5 v2.2" stroke="#111" stroke-width="0.7"/>
<path d="M214.5,200.5 v1.2" stroke="#111" stroke-width="0.7"/>
<path d="M222.42,200.5 v2.2" stroke="#111" stroke-width="0.7"/>
<path d="M230.34,200.5 v1.2" stroke="#111" stroke-width="0.7"/>
<path d="M238.26,200.5 v2.2" stroke="#111" stroke-width="0.7"/>
<path d="M246.18,200.5 v1.2" stroke="#111" stroke-width="0.7"/>
<path d="M254.1,200.5 v2.2" stroke="#111" stroke-width="0.7"/>
<text x="174.9" y="211.6" font-size="6.6" fill="#2e2e2e" text-anchor="middle" stroke="#2e2e2e" stroke-width="0.14">0</text>
<text x="190.74" y="211.6" font-size="6.6" fill="#2e2e2e" text-anchor="middle" stroke="#2e2e2e" stroke-width="0.14">8</text>
<text x="206.58" y="211.6" font-size="6.6" fill="#2e2e2e" text-anchor="middle" stroke="#2e2e2e" stroke-width="0.14">16</text>
<text x="222.42" y="211.6" font-size="6.6" fill="#2e2e2e" text-anchor="middle" stroke="#2e2e2e" stroke-width="0.14">24</text>
<text x="238.26" y="211.6" font-size="6.6" fill="#2e2e2e" text-anchor="middle" stroke="#2e2e2e" stroke-width="0.14">32</text>
<text x="254.1" y="211.6" font-size="6.6" fill="#2e2e2e" text-anchor="middle" stroke="#2e2e2e" stroke-width="0.14">40</text>
<text x="217.4" y="222.4" font-size="6.3" fill="#2e2e2e" text-anchor="middle" stroke="#2e2e2e" stroke-width="0.14">Days</text>
<text transform="translate(153.4,175.4) rotate(-90)" font-size="6.3" fill="#3a3a3a" text-anchor="middle" stroke="#3a3a3a" stroke-width="0.14">% survival</text>
<path d="M174.3,151.4 H217.8 V157.65 H221.8 V173.4 H224.2 V201.4" fill="none" stroke="#f0b840" stroke-width="1"/>
<path d="M174.3,150.5 H222.1 V174.5 H222.8 V189.5 H223.6 V200.5" fill="none" stroke="#3a70b0" stroke-width="1"/>
<path d="M174.3,150.5 H223.4 V200.5" fill="none" stroke="#4cb050" stroke-width="1"/>
<path d="M174.3,148.6 H244.4 V168.6 H246.1 V176.85 H247.7 V186.6 H249.6 V196.1" fill="none" stroke="#c42858" stroke-width="1.1"/>
<path d="M174.3,149.6 H226.6 V178.6 H230.1 V189.1 H232.4 V199.6" fill="none" stroke="#3c1e5e" stroke-width="1.1"/>
<text x="253.6" y="197.4" font-size="6.8" fill="#2e2e2e" stroke="#2e2e2e" stroke-width="0.14">***</text>
<text x="2.8" y="245.7" font-size="12" font-weight="bold" fill="#111" stroke="#111" stroke-width="0.35">E</text>
<path d="M40.05,296.73 V294.07 M38.75,294.07 h2.6" stroke="#F29A12" stroke-width="0.8"/>
<rect x="37.5" y="296.73" width="5.1" height="7.67" fill="#F29A12"/>
<path d="M47.85,288.76 V285.52 M46.55,285.52 h2.6" stroke="#1B528C" stroke-width="0.8"/>
<rect x="45.3" y="288.76" width="5.1" height="15.63" fill="#1B528C"/>
<path d="M55.85,292.01 V287.29 M54.55,287.29 h2.6" stroke="#3DB447" stroke-width="0.8"/>
<rect x="53.3" y="292.01" width="5.1" height="12.39" fill="#3DB447"/>
<path d="M63.75,279.91 V276.38 M62.45,276.38 h2.6" stroke="#5A2882" stroke-width="0.8"/>
<rect x="61.2" y="279.91" width="5.1" height="24.49" fill="#5A2882"/>
<path d="M71.85,268.12 V264.87 M70.55,264.87 h2.6" stroke="#C8102E" stroke-width="0.8"/>
<rect x="69.3" y="268.12" width="5.1" height="36.28" fill="#C8102E"/>
<path d="M35.8,254.2 V304.4 H77.4" fill="none" stroke="#111" stroke-width="1"/>
<path d="M35.8,304.4 h-2.4" stroke="#111" stroke-width="0.7"/>
<path d="M35.8,301.45 h-1.2" stroke="#111" stroke-width="0.7"/>
<path d="M35.8,298.5 h-1.2" stroke="#111" stroke-width="0.7"/>
<path d="M35.8,295.55 h-1.2" stroke="#111" stroke-width="0.7"/>
<path d="M35.8,292.6 h-2.4" stroke="#111" stroke-width="0.7"/>
<path d="M35.8,289.65 h-1.2" stroke="#111" stroke-width="0.7"/>
<path d="M35.8,286.7 h-1.2" stroke="#111" stroke-width="0.7"/>
<path d="M35.8,283.75 h-1.2" stroke="#111" stroke-width="0.7"/>
<path d="M35.8,280.8 h-2.4" stroke="#111" stroke-width="0.7"/>
<path d="M35.8,277.85 h-1.2" stroke="#111" stroke-width="0.7"/>
<path d="M35.8,274.9 h-1.2" stroke="#111" stroke-width="0.7"/>
<path d="M35.8,271.95 h-1.2" stroke="#111" stroke-width="0.7"/>
<path d="M35.8,269 h-2.4" stroke="#111" stroke-width="0.7"/>
<path d="M35.8,266.05 h-1.2" stroke="#111" stroke-width="0.7"/>
<path d="M35.8,263.1 h-1.2" stroke="#111" stroke-width="0.7"/>
<path d="M35.8,260.15 h-1.2" stroke="#111" stroke-width="0.7"/>
<path d="M35.8,257.2 h-2.4" stroke="#111" stroke-width="0.7"/>
<text x="29.4" y="306.4" font-size="6" fill="#2e2e2e" text-anchor="end" stroke="#2e2e2e" stroke-width="0.14">0</text>
<text x="29.4" y="294.6" font-size="6" fill="#2e2e2e" text-anchor="end" stroke="#2e2e2e" stroke-width="0.14">20</text>
<text x="29.4" y="282.8" font-size="6" fill="#2e2e2e" text-anchor="end" stroke="#2e2e2e" stroke-width="0.14">40</text>
<text x="29.4" y="271" font-size="6" fill="#2e2e2e" text-anchor="end" stroke="#2e2e2e" stroke-width="0.14">60</text>
<text x="29.4" y="259.2" font-size="6" fill="#2e2e2e" text-anchor="end" stroke="#2e2e2e" stroke-width="0.14">80</text>
<path d="M55.95,304.4 v2.4" stroke="#111" stroke-width="0.6"/>
<path d="M41.6,249.8 H72.35" stroke="#2a2a2a" stroke-width="0.9"/>
<text x="56.97" y="251.4" font-size="6.8" fill="#2e2e2e" text-anchor="middle" stroke="#2e2e2e" stroke-width="0.14">***</text>
<path d="M47,254 H72.35" stroke="#2a2a2a" stroke-width="0.9"/>
<text x="59.67" y="255.6" font-size="6.8" fill="#2e2e2e" text-anchor="middle" stroke="#2e2e2e" stroke-width="0.14">**</text>
<path d="M55.4,258.6 H72.35" stroke="#2a2a2a" stroke-width="0.9"/>
<text x="63.88" y="260.2" font-size="6.8" fill="#2e2e2e" text-anchor="middle" stroke="#2e2e2e" stroke-width="0.14">***</text>
<path d="M61.7,262.6 H72.35" stroke="#2a2a2a" stroke-width="0.9"/>
<text x="67.03" y="264.2" font-size="6.8" fill="#2e2e2e" text-anchor="middle" stroke="#2e2e2e" stroke-width="0.14">*</text>
<text transform="translate(16.6,280.5) rotate(-90)" font-size="6.6" fill="#2e2e2e" text-anchor="middle" stroke="#2e2e2e" stroke-width="0.14">IL-2 (pg/mL)</text>
<path d="M116.75,298.08 V294.57 M115.45,294.57 h2.6" stroke="#F29A12" stroke-width="0.8"/>
<rect x="114.1" y="298.08" width="5.3" height="6.32" fill="#F29A12"/>
<path d="M124.95,288.02 V282.87 M123.65,282.87 h2.6" stroke="#1B528C" stroke-width="0.8"/>
<rect x="122.3" y="288.02" width="5.3" height="16.38" fill="#1B528C"/>
<path d="M132.85,289.19 V284.98 M131.55,284.98 h2.6" stroke="#3DB447" stroke-width="0.8"/>
<rect x="130.2" y="289.19" width="5.3" height="15.21" fill="#3DB447"/>
<path d="M140.95,281.47 V276.55 M139.65,276.55 h2.6" stroke="#5A2882" stroke-width="0.8"/>
<rect x="138.3" y="281.47" width="5.3" height="22.93" fill="#5A2882"/>
<path d="M148.75,268.83 V266.26 M147.45,266.26 h2.6" stroke="#C8102E" stroke-width="0.8"/>
<rect x="146.1" y="268.83" width="5.3" height="35.57" fill="#C8102E"/>
<path d="M112.3,254.6 V304.4 H154.4" fill="none" stroke="#111" stroke-width="1"/>
<path d="M112.3,304.4 h-2.4" stroke="#111" stroke-width="0.7"/>
<path d="M112.3,302.06 h-1.2" stroke="#111" stroke-width="0.7"/>
<path d="M112.3,299.72 h-1.2" stroke="#111" stroke-width="0.7"/>
<path d="M112.3,297.38 h-1.2" stroke="#111" stroke-width="0.7"/>
<path d="M112.3,295.04 h-2.4" stroke="#111" stroke-width="0.7"/>
<path d="M112.3,292.7 h-1.2" stroke="#111" stroke-width="0.7"/>
<path d="M112.3,290.36 h-1.2" stroke="#111" stroke-width="0.7"/>
<path d="M112.3,288.02 h-1.2" stroke="#111" stroke-width="0.7"/>
<path d="M112.3,285.68 h-2.4" stroke="#111" stroke-width="0.7"/>
<path d="M112.3,283.34 h-1.2" stroke="#111" stroke-width="0.7"/>
<path d="M112.3,281 h-1.2" stroke="#111" stroke-width="0.7"/>
<path d="M112.3,278.66 h-1.2" stroke="#111" stroke-width="0.7"/>
<path d="M112.3,276.32 h-2.4" stroke="#111" stroke-width="0.7"/>
<path d="M112.3,273.98 h-1.2" stroke="#111" stroke-width="0.7"/>
<path d="M112.3,271.64 h-1.2" stroke="#111" stroke-width="0.7"/>
<path d="M112.3,269.3 h-1.2" stroke="#111" stroke-width="0.7"/>
<path d="M112.3,266.96 h-2.4" stroke="#111" stroke-width="0.7"/>
<path d="M112.3,264.62 h-1.2" stroke="#111" stroke-width="0.7"/>
<path d="M112.3,262.28 h-1.2" stroke="#111" stroke-width="0.7"/>
<path d="M112.3,259.94 h-1.2" stroke="#111" stroke-width="0.7"/>
<path d="M112.3,257.6 h-2.4" stroke="#111" stroke-width="0.7"/>
<text x="106.4" y="306.4" font-size="6" fill="#2e2e2e" text-anchor="end" stroke="#2e2e2e" stroke-width="0.14">0</text>
<text x="106.4" y="297.04" font-size="6" fill="#2e2e2e" text-anchor="end" stroke="#2e2e2e" stroke-width="0.14">20</text>
<text x="106.4" y="287.68" font-size="6" fill="#2e2e2e" text-anchor="end" stroke="#2e2e2e" stroke-width="0.14">40</text>
<text x="106.4" y="278.32" font-size="6" fill="#2e2e2e" text-anchor="end" stroke="#2e2e2e" stroke-width="0.14">60</text>
<text x="106.4" y="268.96" font-size="6" fill="#2e2e2e" text-anchor="end" stroke="#2e2e2e" stroke-width="0.14">80</text>
<text x="106.4" y="259.6" font-size="6" fill="#2e2e2e" text-anchor="end" stroke="#2e2e2e" stroke-width="0.14">100</text>
<path d="M132.75,304.4 v2.4" stroke="#111" stroke-width="0.6"/>
<path d="M117,249.4 H149.25" stroke="#2a2a2a" stroke-width="0.9"/>
<text x="133.12" y="251" font-size="6.8" fill="#2e2e2e" text-anchor="middle" stroke="#2e2e2e" stroke-width="0.14">***</text>
<path d="M124,253.5 H149.25" stroke="#2a2a2a" stroke-width="0.9"/>
<text x="136.62" y="255.1" font-size="6.8" fill="#2e2e2e" text-anchor="middle" stroke="#2e2e2e" stroke-width="0.14">*</text>
<path d="M132.4,257.9 H149.25" stroke="#2a2a2a" stroke-width="0.9"/>
<text x="140.82" y="259.5" font-size="6.8" fill="#2e2e2e" text-anchor="middle" stroke="#2e2e2e" stroke-width="0.14">*</text>
<path d="M139,262.1 H149.25" stroke="#2a2a2a" stroke-width="0.9"/>
<text x="144.12" y="263.7" font-size="6.8" fill="#2e2e2e" text-anchor="middle" stroke="#2e2e2e" stroke-width="0.14">*</text>
<text transform="translate(91.4,280.5) rotate(-90)" font-size="6.6" fill="#2e2e2e" text-anchor="middle" stroke="#2e2e2e" stroke-width="0.14">IFN-γ (pg/mL)</text>
<path d="M196.4,303.45 V303.45 M195.1,303.45 h2.6" stroke="#F29A12" stroke-width="0.8"/>
<rect x="193.7" y="303.45" width="5.4" height="0.95" fill="#F29A12"/>
<path d="M203.7,293.99 V291.44 M202.4,291.44 h2.6" stroke="#1B528C" stroke-width="0.8"/>
<rect x="201" y="293.99" width="5.4" height="10.41" fill="#1B528C"/>
<path d="M211.7,296.36 V291.44 M210.4,291.44 h2.6" stroke="#3DB447" stroke-width="0.8"/>
<rect x="209" y="296.36" width="5.4" height="8.04" fill="#3DB447"/>
<path d="M219.7,282.17 V273.47 M218.4,273.47 h2.6" stroke="#5A2882" stroke-width="0.8"/>
<rect x="217" y="282.17" width="5.4" height="22.23" fill="#5A2882"/>
<path d="M227.7,266.56 V259.94 M226.4,259.94 h2.6" stroke="#C8102E" stroke-width="0.8"/>
<rect x="225" y="266.56" width="5.4" height="37.84" fill="#C8102E"/>
<path d="M190.9,254.1 V304.4 H233.4" fill="none" stroke="#111" stroke-width="1"/>
<path d="M190.9,304.4 h-2.4" stroke="#111" stroke-width="0.7"/>
<path d="M190.9,302.03 h-1.2" stroke="#111" stroke-width="0.7"/>
<path d="M190.9,299.67 h-1.2" stroke="#111" stroke-width="0.7"/>
<path d="M190.9,297.3 h-1.2" stroke="#111" stroke-width="0.7"/>
<path d="M190.9,294.94 h-2.4" stroke="#111" stroke-width="0.7"/>
<path d="M190.9,292.57 h-1.2" stroke="#111" stroke-width="0.7"/>
<path d="M190.9,290.21 h-1.2" stroke="#111" stroke-width="0.7"/>
<path d="M190.9,287.84 h-1.2" stroke="#111" stroke-width="0.7"/>
<path d="M190.9,285.48 h-2.4" stroke="#111" stroke-width="0.7"/>
<path d="M190.9,283.11 h-1.2" stroke="#111" stroke-width="0.7"/>
<path d="M190.9,280.75 h-1.2" stroke="#111" stroke-width="0.7"/>
<path d="M190.9,278.38 h-1.2" stroke="#111" stroke-width="0.7"/>
<path d="M190.9,276.02 h-2.4" stroke="#111" stroke-width="0.7"/>
<path d="M190.9,273.65 h-1.2" stroke="#111" stroke-width="0.7"/>
<path d="M190.9,271.29 h-1.2" stroke="#111" stroke-width="0.7"/>
<path d="M190.9,268.92 h-1.2" stroke="#111" stroke-width="0.7"/>
<path d="M190.9,266.56 h-2.4" stroke="#111" stroke-width="0.7"/>
<path d="M190.9,264.19 h-1.2" stroke="#111" stroke-width="0.7"/>
<path d="M190.9,261.83 h-1.2" stroke="#111" stroke-width="0.7"/>
<path d="M190.9,259.46 h-1.2" stroke="#111" stroke-width="0.7"/>
<path d="M190.9,257.1 h-2.4" stroke="#111" stroke-width="0.7"/>
<text x="184.8" y="306.4" font-size="6" fill="#2e2e2e" text-anchor="end" stroke="#2e2e2e" stroke-width="0.14">0</text>
<text x="184.8" y="296.94" font-size="6" fill="#2e2e2e" text-anchor="end" stroke="#2e2e2e" stroke-width="0.14">10</text>
<text x="184.8" y="287.48" font-size="6" fill="#2e2e2e" text-anchor="end" stroke="#2e2e2e" stroke-width="0.14">20</text>
<text x="184.8" y="278.02" font-size="6" fill="#2e2e2e" text-anchor="end" stroke="#2e2e2e" stroke-width="0.14">30</text>
<text x="184.8" y="268.56" font-size="6" fill="#2e2e2e" text-anchor="end" stroke="#2e2e2e" stroke-width="0.14">40</text>
<text x="184.8" y="259.1" font-size="6" fill="#2e2e2e" text-anchor="end" stroke="#2e2e2e" stroke-width="0.14">50</text>
<path d="M212.05,304.4 v2.4" stroke="#111" stroke-width="0.6"/>
<path d="M195.6,244 H226.7" stroke="#2a2a2a" stroke-width="0.9"/>
<text x="211.15" y="245.6" font-size="6.8" fill="#2e2e2e" text-anchor="middle" stroke="#2e2e2e" stroke-width="0.14">***</text>
<path d="M201.3,248.3 H226.7" stroke="#2a2a2a" stroke-width="0.9"/>
<text x="214" y="249.9" font-size="6.8" fill="#2e2e2e" text-anchor="middle" stroke="#2e2e2e" stroke-width="0.14">*</text>
<path d="M210.6,253.5 H226.7" stroke="#2a2a2a" stroke-width="0.9"/>
<text x="218.65" y="255.1" font-size="6.8" fill="#2e2e2e" text-anchor="middle" stroke="#2e2e2e" stroke-width="0.14">***</text>
<path d="M217,257.9 H226.7" stroke="#2a2a2a" stroke-width="0.9"/>
<text x="221.85" y="259.5" font-size="6.8" fill="#2e2e2e" text-anchor="middle" stroke="#2e2e2e" stroke-width="0.14">***</text>
<text transform="translate(171.9,280.5) rotate(-90)" font-size="6.6" fill="#2e2e2e" text-anchor="middle" stroke="#2e2e2e" stroke-width="0.14">TNF-α (pg/mL)</text>
<rect x="238.3" y="250.6" width="4.2" height="4.2" fill="#F29A12"/>
<text x="245.7" y="255" font-size="6.5" fill="#2e2e2e" stroke="#2e2e2e" stroke-width="0.14">Control</text>
<rect x="238.3" y="259.4" width="4.2" height="4.2" fill="#1B528C"/>
<text x="245.7" y="263.8" font-size="6.5" fill="#2e2e2e" stroke="#2e2e2e" stroke-width="0.14">CD19/CD3 HCT</text>
<rect x="238.3" y="268.1" width="4.2" height="4.2" fill="#3DB447"/>
<text x="245.7" y="272.5" font-size="6.5" fill="#2e2e2e" stroke="#2e2e2e" stroke-width="0.14">CD22/CD3 LCT</text>
<rect x="238.3" y="276.9" width="4.2" height="4.2" fill="#5A2882"/>
<text x="245.7" y="281.3" font-size="6.5" fill="#2e2e2e" stroke="#2e2e2e" stroke-width="0.14">CD19/CD3 HCT</text>
<text x="247.2" y="290" font-size="6.5" fill="#2e2e2e" stroke="#2e2e2e" stroke-width="0.14">+ CD22/CD3 LCT</text>
<rect x="238.3" y="293.2" width="4.2" height="4.2" fill="#C8102E"/>
<text x="245.7" y="297.6" font-size="6.5" fill="#2e2e2e" stroke="#2e2e2e" stroke-width="0.14">CD19/CD22/CD3 (CC)</text>
</svg></body></html>
